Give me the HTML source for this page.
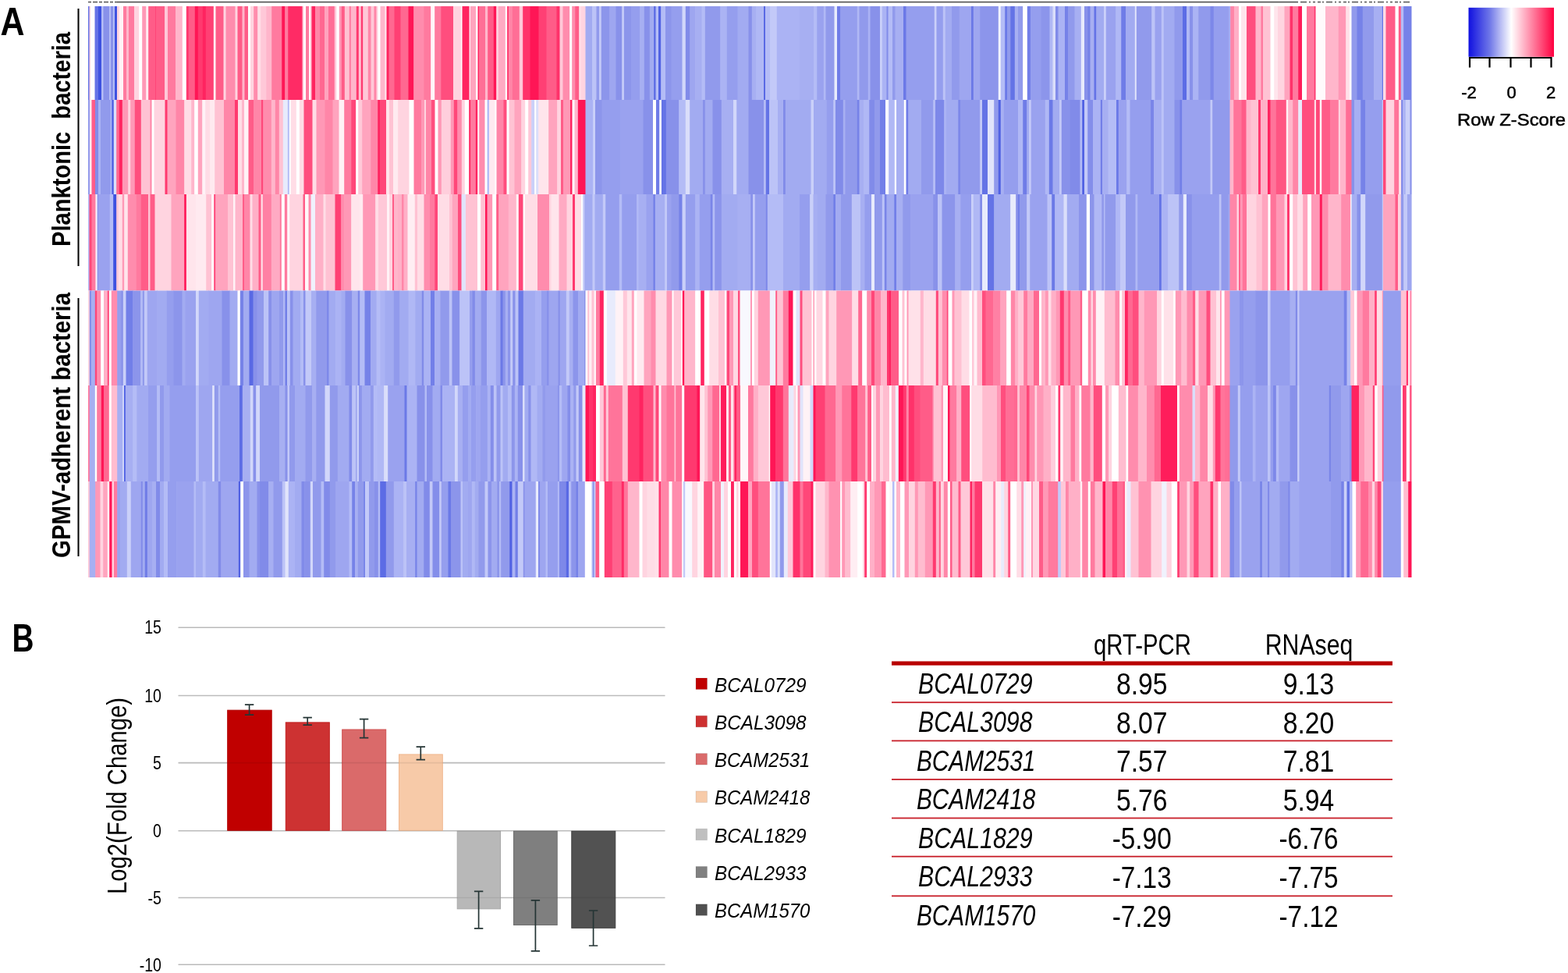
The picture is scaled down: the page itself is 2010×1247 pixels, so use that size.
<!DOCTYPE html>
<html><head><meta charset="utf-8"><title>Figure</title>
<style>html,body{margin:0;padding:0;background:#fff;} svg{display:block;font-family:"Liberation Sans",Arial,sans-serif;}</style>
</head><body>
<svg width="2010" height="1247" viewBox="0 0 2010 1247">
<rect width="2010" height="1247" fill="#fff"/>
<line x1="150" y1="2.6" x2="1664" y2="2.6" stroke="#5a5a5a" stroke-width="1.8"/>
<line x1="113" y1="2.6" x2="150" y2="2.6" stroke="#666" stroke-width="1.6" stroke-dasharray="4 2 6 2"/>
<line x1="1667" y1="2.6" x2="1808" y2="2.6" stroke="#666" stroke-width="1.6" stroke-dasharray="8 3 2 3 3 3 4 2 2 3"/>
<rect x="113.0" y="8" width="2.1" height="120" fill="#6473e6"/>
<rect x="114.5" y="8" width="2.1" height="120" fill="#ffd4e0"/>
<rect x="116.0" y="8" width="6.1" height="120" fill="#ffffff"/>
<rect x="121.5" y="8" width="5.1" height="120" fill="#6473e6"/>
<rect x="126.0" y="8" width="4.6" height="120" fill="#3e52e0"/>
<rect x="130.0" y="8" width="3.1" height="120" fill="#b4bcf6"/>
<rect x="132.5" y="8" width="8.1" height="120" fill="#8891ea"/>
<rect x="140.0" y="8" width="2.6" height="120" fill="#b4bcf6"/>
<rect x="142.0" y="8" width="3.6" height="120" fill="#8891ea"/>
<rect x="145.0" y="8" width="2.6" height="120" fill="#b4bcf6"/>
<rect x="147.0" y="8" width="3.6" height="120" fill="#3e52e0"/>
<rect x="150.0" y="8" width="3.6" height="120" fill="#ffd4e0"/>
<rect x="153.0" y="8" width="5.6" height="120" fill="#fff2f6"/>
<rect x="158.0" y="8" width="4.6" height="120" fill="#ff7a9f"/>
<rect x="162.0" y="8" width="3.6" height="120" fill="#ffb6cb"/>
<rect x="165.0" y="8" width="7.6" height="120" fill="#ff7a9f"/>
<rect x="172.0" y="8" width="6.8" height="120" fill="#ffd4e0"/>
<rect x="178.2" y="8" width="4.6" height="120" fill="#ffffff"/>
<rect x="182.2" y="8" width="5.6" height="120" fill="#ff98b6"/>
<rect x="187.2" y="8" width="3.6" height="120" fill="#ffeaf0"/>
<rect x="190.2" y="8" width="9.6" height="120" fill="#ff5c88"/>
<rect x="199.2" y="8" width="1.4" height="120" fill="#ff396f"/>
<rect x="200.0" y="8" width="11.6" height="120" fill="#ff5c88"/>
<rect x="211.0" y="8" width="4.6" height="120" fill="#ffc8d8"/>
<rect x="215.0" y="8" width="10.6" height="120" fill="#ff7a9f"/>
<rect x="225.0" y="8" width="9.3" height="120" fill="#ffb6cb"/>
<rect x="233.8" y="8" width="5.6" height="120" fill="#ffffff"/>
<rect x="238.8" y="8" width="3.6" height="120" fill="#ff396f"/>
<rect x="241.8" y="8" width="8.6" height="120" fill="#ff5c88"/>
<rect x="249.8" y="8" width="4.6" height="120" fill="#ff1656"/>
<rect x="253.8" y="8" width="6.6" height="120" fill="#ff396f"/>
<rect x="259.8" y="8" width="4.6" height="120" fill="#ff2460"/>
<rect x="263.8" y="8" width="10.6" height="120" fill="#ff4074"/>
<rect x="273.8" y="8" width="3.4" height="120" fill="#fff2f6"/>
<rect x="276.5" y="8" width="10.6" height="120" fill="#ff5c88"/>
<rect x="286.5" y="8" width="3.6" height="120" fill="#ffd4e0"/>
<rect x="289.5" y="8" width="12.6" height="120" fill="#ff8cad"/>
<rect x="301.5" y="8" width="3.6" height="120" fill="#ffd4e0"/>
<rect x="304.5" y="8" width="6.6" height="120" fill="#ff5c88"/>
<rect x="310.5" y="8" width="3.6" height="120" fill="#ffb6cb"/>
<rect x="313.5" y="8" width="5.1" height="120" fill="#ff5c88"/>
<rect x="318.0" y="8" width="3.6" height="120" fill="#ffffff"/>
<rect x="321.0" y="8" width="4.8" height="120" fill="#ffd4e0"/>
<rect x="325.2" y="8" width="5.6" height="120" fill="#ff8cad"/>
<rect x="330.2" y="8" width="4.6" height="120" fill="#ffdde6"/>
<rect x="334.2" y="8" width="7.6" height="120" fill="#ffc8d8"/>
<rect x="341.2" y="8" width="7.6" height="120" fill="#ffb6cb"/>
<rect x="348.2" y="8" width="13.6" height="120" fill="#ff7a9f"/>
<rect x="361.2" y="8" width="4.6" height="120" fill="#ff1656"/>
<rect x="365.2" y="8" width="4.6" height="120" fill="#ff7a9f"/>
<rect x="369.2" y="8" width="18.4" height="120" fill="#ff2b65"/>
<rect x="387.0" y="8" width="2.1" height="120" fill="#ff7a9f"/>
<rect x="388.5" y="8" width="4.1" height="120" fill="#ffffff"/>
<rect x="392.0" y="8" width="4.6" height="120" fill="#ff7a9f"/>
<rect x="396.0" y="8" width="3.1" height="120" fill="#ffffff"/>
<rect x="398.5" y="8" width="2.1" height="120" fill="#ff7a9f"/>
<rect x="400.0" y="8" width="4.6" height="120" fill="#ff2460"/>
<rect x="404.0" y="8" width="6.6" height="120" fill="#ff86a8"/>
<rect x="410.0" y="8" width="6.6" height="120" fill="#ff6891"/>
<rect x="416.0" y="8" width="5.6" height="120" fill="#ffa4be"/>
<rect x="421.0" y="8" width="8.3" height="120" fill="#ff6e96"/>
<rect x="428.8" y="8" width="3.1" height="120" fill="#ffc8d8"/>
<rect x="431.2" y="8" width="4.1" height="120" fill="#ffffff"/>
<rect x="434.8" y="8" width="3.6" height="120" fill="#ff98b6"/>
<rect x="437.8" y="8" width="4.6" height="120" fill="#ff5c88"/>
<rect x="441.8" y="8" width="6.6" height="120" fill="#ffc2d3"/>
<rect x="447.8" y="8" width="2.6" height="120" fill="#ff7a9f"/>
<rect x="449.8" y="8" width="7.6" height="120" fill="#ffb6cb"/>
<rect x="456.8" y="8" width="3.6" height="120" fill="#ff396f"/>
<rect x="459.8" y="8" width="3.6" height="120" fill="#ffc2d3"/>
<rect x="462.8" y="8" width="3.1" height="120" fill="#ff396f"/>
<rect x="465.2" y="8" width="7.1" height="120" fill="#ffc8d8"/>
<rect x="471.8" y="8" width="4.3" height="120" fill="#ff86a8"/>
<rect x="475.5" y="8" width="4.6" height="120" fill="#ffc8d8"/>
<rect x="479.5" y="8" width="3.6" height="120" fill="#ff86a8"/>
<rect x="482.5" y="8" width="2.6" height="120" fill="#ffd4e0"/>
<rect x="484.5" y="8" width="3.6" height="120" fill="#ffffff"/>
<rect x="487.5" y="8" width="6.6" height="120" fill="#ffb6cb"/>
<rect x="493.5" y="8" width="2.6" height="120" fill="#ffeaf0"/>
<rect x="495.5" y="8" width="3.6" height="120" fill="#ff2460"/>
<rect x="498.5" y="8" width="7.6" height="120" fill="#ff6891"/>
<rect x="505.5" y="8" width="8.6" height="120" fill="#ff4074"/>
<rect x="513.5" y="8" width="10.6" height="120" fill="#ff6891"/>
<rect x="523.5" y="8" width="7.3" height="120" fill="#ff1656"/>
<rect x="530.2" y="8" width="13.6" height="120" fill="#ff8cad"/>
<rect x="543.2" y="8" width="9.6" height="120" fill="#ff7a9f"/>
<rect x="552.2" y="8" width="5.6" height="120" fill="#fff6f9"/>
<rect x="557.2" y="8" width="8.6" height="120" fill="#ff7a9f"/>
<rect x="565.2" y="8" width="16.4" height="120" fill="#ff4e7e"/>
<rect x="581.0" y="8" width="10.6" height="120" fill="#ffd4e0"/>
<rect x="591.0" y="8" width="2.1" height="120" fill="#ffffff"/>
<rect x="592.5" y="8" width="9.6" height="120" fill="#ff2460"/>
<rect x="601.5" y="8" width="2.1" height="120" fill="#ffeaf0"/>
<rect x="603.0" y="8" width="7.6" height="120" fill="#ffa4be"/>
<rect x="610.0" y="8" width="3.1" height="120" fill="#ffffff"/>
<rect x="612.5" y="8" width="2.1" height="120" fill="#ff2460"/>
<rect x="614.0" y="8" width="8.6" height="120" fill="#ff6e96"/>
<rect x="622.0" y="8" width="3.9" height="120" fill="#ffb6cb"/>
<rect x="625.2" y="8" width="8.1" height="120" fill="#ff5c88"/>
<rect x="632.8" y="8" width="4.1" height="120" fill="#ff1656"/>
<rect x="636.2" y="8" width="3.1" height="120" fill="#ffd4e0"/>
<rect x="638.8" y="8" width="9.6" height="120" fill="#ffaac3"/>
<rect x="647.8" y="8" width="3.1" height="120" fill="#ffffff"/>
<rect x="650.2" y="8" width="2.1" height="120" fill="#ff2460"/>
<rect x="651.8" y="8" width="5.6" height="120" fill="#ff86a8"/>
<rect x="656.8" y="8" width="9.6" height="120" fill="#ff6e96"/>
<rect x="665.8" y="8" width="5.1" height="120" fill="#ffc8d8"/>
<rect x="670.2" y="8" width="9.8" height="120" fill="#ff326a"/>
<rect x="679.5" y="8" width="11.6" height="120" fill="#ff1656"/>
<rect x="690.5" y="8" width="10.6" height="120" fill="#ff4074"/>
<rect x="700.5" y="8" width="13.6" height="120" fill="#ff5c88"/>
<rect x="713.5" y="8" width="4.6" height="120" fill="#ff326a"/>
<rect x="717.5" y="8" width="4.6" height="120" fill="#ffc8d8"/>
<rect x="721.5" y="8" width="9.3" height="120" fill="#ff8cad"/>
<rect x="730.2" y="8" width="3.6" height="120" fill="#ffffff"/>
<rect x="733.2" y="8" width="4.6" height="120" fill="#ff8cad"/>
<rect x="737.2" y="8" width="5.6" height="120" fill="#ff5c88"/>
<rect x="742.2" y="8" width="3.4" height="120" fill="#ffdde6"/>
<rect x="745.0" y="8" width="6.1" height="120" fill="#ffd4e0"/>
<rect x="750.5" y="8" width="9.1" height="120" fill="#a2abf1"/>
<rect x="759.0" y="8" width="6.1" height="120" fill="#bcc3f7"/>
<rect x="764.5" y="8" width="4.1" height="120" fill="#919aec"/>
<rect x="768.0" y="8" width="3.4" height="120" fill="#c3c9f8"/>
<rect x="770.8" y="8" width="11.1" height="120" fill="#8c95eb"/>
<rect x="781.2" y="8" width="8.8" height="120" fill="#9ea6f0"/>
<rect x="789.5" y="8" width="8.3" height="120" fill="#8891ea"/>
<rect x="797.2" y="8" width="3.4" height="120" fill="#c3c9f8"/>
<rect x="800.0" y="8" width="9.6" height="120" fill="#8c95eb"/>
<rect x="809.0" y="8" width="11.8" height="120" fill="#959eee"/>
<rect x="820.2" y="8" width="6.1" height="120" fill="#a7aff2"/>
<rect x="825.8" y="8" width="7.6" height="120" fill="#8891ea"/>
<rect x="832.8" y="8" width="6.1" height="120" fill="#a2abf1"/>
<rect x="838.2" y="8" width="2.9" height="120" fill="#5969e4"/>
<rect x="840.5" y="8" width="4.1" height="120" fill="#b4bcf6"/>
<rect x="844.0" y="8" width="3.9" height="120" fill="#5162e3"/>
<rect x="847.2" y="8" width="6.3" height="120" fill="#b4bcf6"/>
<rect x="853.0" y="8" width="8.1" height="120" fill="#8c95eb"/>
<rect x="860.5" y="8" width="14.6" height="120" fill="#959eee"/>
<rect x="874.5" y="8" width="4.8" height="120" fill="#d2d7fa"/>
<rect x="878.8" y="8" width="6.1" height="120" fill="#818be9"/>
<rect x="884.2" y="8" width="7.6" height="120" fill="#9ea6f0"/>
<rect x="891.2" y="8" width="8.8" height="120" fill="#a7aff2"/>
<rect x="899.5" y="8" width="4.8" height="120" fill="#b4bcf6"/>
<rect x="903.8" y="8" width="20.1" height="120" fill="#919aec"/>
<rect x="923.2" y="8" width="9.1" height="120" fill="#abb3f4"/>
<rect x="931.8" y="8" width="14.3" height="120" fill="#959eee"/>
<rect x="945.5" y="8" width="14.6" height="120" fill="#a2abf1"/>
<rect x="959.5" y="8" width="4.8" height="120" fill="#8891ea"/>
<rect x="963.8" y="8" width="6.1" height="120" fill="#a7aff2"/>
<rect x="969.2" y="8" width="10.3" height="120" fill="#b0b8f5"/>
<rect x="979.0" y="8" width="2.6" height="120" fill="#5969e4"/>
<rect x="981.0" y="8" width="6.8" height="120" fill="#b4bcf6"/>
<rect x="987.2" y="8" width="9.1" height="120" fill="#c3c9f8"/>
<rect x="995.8" y="8" width="29.9" height="120" fill="#abb3f4"/>
<rect x="1025.0" y="8" width="18.6" height="120" fill="#a7aff2"/>
<rect x="1043.0" y="8" width="4.8" height="120" fill="#b4bcf6"/>
<rect x="1047.2" y="8" width="9.1" height="120" fill="#9aa2ef"/>
<rect x="1055.8" y="8" width="3.4" height="120" fill="#b0b8f5"/>
<rect x="1058.5" y="8" width="11.6" height="120" fill="#919aec"/>
<rect x="1069.5" y="8" width="4.1" height="120" fill="#e8ebfc"/>
<rect x="1073.0" y="8" width="4.8" height="120" fill="#6f7ce7"/>
<rect x="1077.2" y="8" width="22.1" height="120" fill="#959eee"/>
<rect x="1098.8" y="8" width="3.4" height="120" fill="#b0b8f5"/>
<rect x="1101.5" y="8" width="11.8" height="120" fill="#919aec"/>
<rect x="1112.8" y="8" width="3.4" height="120" fill="#abb3f4"/>
<rect x="1115.5" y="8" width="13.1" height="120" fill="#8891ea"/>
<rect x="1128.0" y="8" width="3.4" height="120" fill="#cad0f9"/>
<rect x="1130.8" y="8" width="6.3" height="120" fill="#abb3f4"/>
<rect x="1136.5" y="8" width="2.6" height="120" fill="#818be9"/>
<rect x="1138.5" y="8" width="6.1" height="120" fill="#b4bcf6"/>
<rect x="1144.0" y="8" width="4.1" height="120" fill="#919aec"/>
<rect x="1147.5" y="8" width="11.1" height="120" fill="#a7aff2"/>
<rect x="1158.0" y="8" width="4.1" height="120" fill="#6b79e7"/>
<rect x="1161.5" y="8" width="36.9" height="120" fill="#959eee"/>
<rect x="1197.8" y="8" width="3.4" height="120" fill="#cad0f9"/>
<rect x="1200.5" y="8" width="8.8" height="120" fill="#959eee"/>
<rect x="1208.8" y="8" width="3.6" height="120" fill="#bcc3f7"/>
<rect x="1211.8" y="8" width="8.8" height="120" fill="#a2abf1"/>
<rect x="1220.0" y="8" width="10.3" height="120" fill="#919aec"/>
<rect x="1229.8" y="8" width="15.8" height="120" fill="#9ea6f0"/>
<rect x="1245.0" y="8" width="3.4" height="120" fill="#6b79e7"/>
<rect x="1247.8" y="8" width="9.1" height="120" fill="#9ea6f0"/>
<rect x="1256.2" y="8" width="24.1" height="120" fill="#8c95eb"/>
<rect x="1279.8" y="8" width="3.6" height="120" fill="#f0f2fd"/>
<rect x="1282.8" y="8" width="6.1" height="120" fill="#b4bcf6"/>
<rect x="1288.2" y="8" width="3.4" height="120" fill="#6b79e7"/>
<rect x="1291.0" y="8" width="4.8" height="120" fill="#919aec"/>
<rect x="1295.2" y="8" width="6.1" height="120" fill="#6473e6"/>
<rect x="1300.8" y="8" width="4.8" height="120" fill="#a7aff2"/>
<rect x="1305.0" y="8" width="6.8" height="120" fill="#919aec"/>
<rect x="1311.2" y="8" width="6.1" height="120" fill="#ffffff"/>
<rect x="1316.8" y="8" width="4.8" height="120" fill="#727fe8"/>
<rect x="1321.0" y="8" width="13.8" height="120" fill="#959eee"/>
<rect x="1334.2" y="8" width="11.8" height="120" fill="#8c95eb"/>
<rect x="1345.5" y="8" width="4.6" height="120" fill="#b0b8f5"/>
<rect x="1349.5" y="8" width="4.1" height="120" fill="#dadefa"/>
<rect x="1353.0" y="8" width="4.1" height="120" fill="#818be9"/>
<rect x="1356.5" y="8" width="9.1" height="120" fill="#abb3f4"/>
<rect x="1365.0" y="8" width="4.6" height="120" fill="#7682e8"/>
<rect x="1369.0" y="8" width="9.1" height="120" fill="#919aec"/>
<rect x="1377.5" y="8" width="8.8" height="120" fill="#a7aff2"/>
<rect x="1385.8" y="8" width="4.8" height="120" fill="#e8ebfc"/>
<rect x="1390.0" y="8" width="4.8" height="120" fill="#8891ea"/>
<rect x="1394.2" y="8" width="3.9" height="120" fill="#7682e8"/>
<rect x="1397.5" y="8" width="5.6" height="120" fill="#a7aff2"/>
<rect x="1402.5" y="8" width="3.4" height="120" fill="#6473e6"/>
<rect x="1405.2" y="8" width="10.3" height="120" fill="#a2abf1"/>
<rect x="1415.0" y="8" width="3.4" height="120" fill="#cad0f9"/>
<rect x="1417.8" y="8" width="13.1" height="120" fill="#9aa2ef"/>
<rect x="1430.2" y="8" width="7.6" height="120" fill="#b0b8f5"/>
<rect x="1437.2" y="8" width="6.3" height="120" fill="#6f7ce7"/>
<rect x="1443.0" y="8" width="12.3" height="120" fill="#a2abf1"/>
<rect x="1454.8" y="8" width="2.6" height="120" fill="#e1e4fb"/>
<rect x="1456.8" y="8" width="20.1" height="120" fill="#919aec"/>
<rect x="1476.2" y="8" width="4.8" height="120" fill="#bcc3f7"/>
<rect x="1480.5" y="8" width="8.8" height="120" fill="#9aa2ef"/>
<rect x="1488.8" y="8" width="3.6" height="120" fill="#bcc3f7"/>
<rect x="1491.8" y="8" width="14.3" height="120" fill="#a2abf1"/>
<rect x="1505.5" y="8" width="11.1" height="120" fill="#919aec"/>
<rect x="1516.0" y="8" width="5.6" height="120" fill="#5c6ce5"/>
<rect x="1521.0" y="8" width="4.6" height="120" fill="#b0b8f5"/>
<rect x="1525.0" y="8" width="4.8" height="120" fill="#8891ea"/>
<rect x="1529.2" y="8" width="7.6" height="120" fill="#abb3f4"/>
<rect x="1536.2" y="8" width="15.8" height="120" fill="#919aec"/>
<rect x="1551.5" y="8" width="4.8" height="120" fill="#7d88e9"/>
<rect x="1555.8" y="8" width="19.4" height="120" fill="#959eee"/>
<rect x="1574.5" y="8" width="2.6" height="120" fill="#9ea6f0"/>
<rect x="1576.5" y="8" width="1.4" height="120" fill="#b4bcf6"/>
<rect x="1577.2" y="8" width="5.3" height="120" fill="#ff86a8"/>
<rect x="1582.0" y="8" width="6.6" height="120" fill="#ffb0c7"/>
<rect x="1588.0" y="8" width="3.6" height="120" fill="#ffffff"/>
<rect x="1591.0" y="8" width="7.6" height="120" fill="#ffe5ec"/>
<rect x="1598.0" y="8" width="12.1" height="120" fill="#ff4e7e"/>
<rect x="1609.5" y="8" width="7.6" height="120" fill="#ffb6cb"/>
<rect x="1616.5" y="8" width="3.1" height="120" fill="#ff7a9f"/>
<rect x="1619.0" y="8" width="10.1" height="120" fill="#ffc2d3"/>
<rect x="1628.5" y="8" width="5.3" height="120" fill="#ffffff"/>
<rect x="1633.2" y="8" width="5.3" height="120" fill="#ffe5ec"/>
<rect x="1638.0" y="8" width="9.1" height="120" fill="#ffd4e0"/>
<rect x="1646.5" y="8" width="7.6" height="120" fill="#ffa4be"/>
<rect x="1653.5" y="8" width="4.3" height="120" fill="#ff326a"/>
<rect x="1657.2" y="8" width="7.6" height="120" fill="#ff7a9f"/>
<rect x="1664.2" y="8" width="5.3" height="120" fill="#ff1d5b"/>
<rect x="1669.0" y="8" width="6.6" height="120" fill="#ffffff"/>
<rect x="1675.0" y="8" width="10.3" height="120" fill="#ff7a9f"/>
<rect x="1684.8" y="8" width="2.4" height="120" fill="#ff396f"/>
<rect x="1686.5" y="8" width="13.1" height="120" fill="#fffbfc"/>
<rect x="1699.0" y="8" width="17.4" height="120" fill="#ffb6cb"/>
<rect x="1715.8" y="8" width="10.1" height="120" fill="#ff98b6"/>
<rect x="1725.2" y="8" width="5.3" height="120" fill="#ffe1e9"/>
<rect x="1730.0" y="8" width="3.1" height="120" fill="#ffffff"/>
<rect x="1732.5" y="8" width="7.6" height="120" fill="#919aec"/>
<rect x="1739.5" y="8" width="7.8" height="120" fill="#7682e8"/>
<rect x="1746.8" y="8" width="14.8" height="120" fill="#919aec"/>
<rect x="1761.0" y="8" width="11.3" height="120" fill="#a7aff2"/>
<rect x="1771.8" y="8" width="1.9" height="120" fill="#6473e6"/>
<rect x="1773.0" y="8" width="4.1" height="120" fill="#ffdde6"/>
<rect x="1776.5" y="8" width="12.6" height="120" fill="#ff5c88"/>
<rect x="1788.5" y="8" width="4.8" height="120" fill="#ffffff"/>
<rect x="1792.8" y="8" width="3.6" height="120" fill="#ff5c88"/>
<rect x="1795.8" y="8" width="4.1" height="120" fill="#b4bcf6"/>
<rect x="1799.2" y="8" width="10.3" height="120" fill="#7682e8"/>
<rect x="113.0" y="128" width="2.6" height="121" fill="#919aec"/>
<rect x="115.0" y="128" width="3.1" height="121" fill="#ffeaf0"/>
<rect x="117.5" y="128" width="5.1" height="121" fill="#ff5c88"/>
<rect x="122.0" y="128" width="4.6" height="121" fill="#818be9"/>
<rect x="126.0" y="128" width="3.6" height="121" fill="#abb3f4"/>
<rect x="129.0" y="128" width="13.3" height="121" fill="#919aec"/>
<rect x="141.8" y="128" width="2.1" height="121" fill="#b4bcf6"/>
<rect x="143.2" y="128" width="3.1" height="121" fill="#5162e3"/>
<rect x="145.8" y="128" width="4.1" height="121" fill="#dadefa"/>
<rect x="149.2" y="128" width="4.1" height="121" fill="#ff6891"/>
<rect x="152.8" y="128" width="4.6" height="121" fill="#ff2460"/>
<rect x="156.8" y="128" width="8.1" height="121" fill="#ff98b6"/>
<rect x="164.2" y="128" width="3.6" height="121" fill="#ffd4e0"/>
<rect x="167.2" y="128" width="6.1" height="121" fill="#ff98b6"/>
<rect x="172.8" y="128" width="8.6" height="121" fill="#ff4e7e"/>
<rect x="180.8" y="128" width="12.3" height="121" fill="#ffc2d3"/>
<rect x="192.5" y="128" width="2.6" height="121" fill="#ff86a8"/>
<rect x="194.5" y="128" width="3.6" height="121" fill="#ffffff"/>
<rect x="197.5" y="128" width="14.6" height="121" fill="#ffd4e0"/>
<rect x="211.5" y="128" width="3.6" height="121" fill="#ff396f"/>
<rect x="214.5" y="128" width="11.6" height="121" fill="#ffa4be"/>
<rect x="225.5" y="128" width="11.3" height="121" fill="#ff86a8"/>
<rect x="236.2" y="128" width="9.6" height="121" fill="#ffdde6"/>
<rect x="245.2" y="128" width="4.6" height="121" fill="#ffb6cb"/>
<rect x="249.2" y="128" width="5.1" height="121" fill="#ffffff"/>
<rect x="253.8" y="128" width="6.1" height="121" fill="#ffa4be"/>
<rect x="259.2" y="128" width="4.6" height="121" fill="#fff2f6"/>
<rect x="263.2" y="128" width="6.6" height="121" fill="#ffdde6"/>
<rect x="269.2" y="128" width="6.6" height="121" fill="#ffeaf0"/>
<rect x="275.2" y="128" width="12.3" height="121" fill="#ffc2d3"/>
<rect x="287.0" y="128" width="14.6" height="121" fill="#ff86a8"/>
<rect x="301.0" y="128" width="4.6" height="121" fill="#ff396f"/>
<rect x="305.0" y="128" width="5.6" height="121" fill="#ffdde6"/>
<rect x="310.0" y="128" width="3.6" height="121" fill="#ffb6cb"/>
<rect x="313.0" y="128" width="6.1" height="121" fill="#fff2f6"/>
<rect x="318.5" y="128" width="7.1" height="121" fill="#ff5c88"/>
<rect x="325.0" y="128" width="10.6" height="121" fill="#ff86a8"/>
<rect x="335.0" y="128" width="2.9" height="121" fill="#ff4779"/>
<rect x="337.2" y="128" width="11.1" height="121" fill="#ff8cad"/>
<rect x="347.8" y="128" width="5.6" height="121" fill="#ffb6cb"/>
<rect x="352.8" y="128" width="5.6" height="121" fill="#ff86a8"/>
<rect x="357.8" y="128" width="5.6" height="121" fill="#ffc2d3"/>
<rect x="362.8" y="128" width="6.6" height="121" fill="#e8ebfc"/>
<rect x="368.8" y="128" width="2.6" height="121" fill="#b4bcf6"/>
<rect x="370.8" y="128" width="2.6" height="121" fill="#ffffff"/>
<rect x="372.8" y="128" width="7.6" height="121" fill="#ffdde6"/>
<rect x="379.8" y="128" width="4.6" height="121" fill="#ffffff"/>
<rect x="383.8" y="128" width="6.3" height="121" fill="#ffdde6"/>
<rect x="389.5" y="128" width="11.6" height="121" fill="#ff4e7e"/>
<rect x="400.5" y="128" width="5.6" height="121" fill="#ffdde6"/>
<rect x="405.5" y="128" width="11.6" height="121" fill="#ff98b6"/>
<rect x="416.5" y="128" width="10.6" height="121" fill="#ff86a8"/>
<rect x="426.5" y="128" width="8.6" height="121" fill="#ffa4be"/>
<rect x="434.5" y="128" width="7.3" height="121" fill="#fff2f6"/>
<rect x="441.2" y="128" width="9.6" height="121" fill="#ff7a9f"/>
<rect x="450.2" y="128" width="6.6" height="121" fill="#ff4779"/>
<rect x="456.2" y="128" width="3.6" height="121" fill="#ffffff"/>
<rect x="459.2" y="128" width="5.6" height="121" fill="#ffc8d8"/>
<rect x="464.2" y="128" width="11.6" height="121" fill="#ffa4be"/>
<rect x="475.2" y="128" width="9.6" height="121" fill="#ff86a8"/>
<rect x="484.2" y="128" width="3.4" height="121" fill="#ff2460"/>
<rect x="487.0" y="128" width="8.6" height="121" fill="#ff4779"/>
<rect x="495.0" y="128" width="4.6" height="121" fill="#ffe5ec"/>
<rect x="499.0" y="128" width="5.6" height="121" fill="#ffc2d3"/>
<rect x="504.0" y="128" width="6.6" height="121" fill="#ffeaf0"/>
<rect x="510.0" y="128" width="1.1" height="121" fill="#ffdde6"/>
<rect x="510.5" y="128" width="14.6" height="121" fill="#ffd4e0"/>
<rect x="524.5" y="128" width="6.6" height="121" fill="#ffffff"/>
<rect x="530.5" y="128" width="10.1" height="121" fill="#ff7a9f"/>
<rect x="540.0" y="128" width="4.6" height="121" fill="#ff98b6"/>
<rect x="544.0" y="128" width="2.6" height="121" fill="#ffd4e0"/>
<rect x="546.0" y="128" width="7.6" height="121" fill="#ff86a8"/>
<rect x="553.0" y="128" width="5.1" height="121" fill="#ff4e7e"/>
<rect x="557.5" y="128" width="4.6" height="121" fill="#ffffff"/>
<rect x="561.5" y="128" width="4.8" height="121" fill="#ff98b6"/>
<rect x="565.8" y="128" width="12.6" height="121" fill="#ffcedc"/>
<rect x="577.8" y="128" width="4.6" height="121" fill="#ff98b6"/>
<rect x="581.8" y="128" width="5.1" height="121" fill="#ff4779"/>
<rect x="586.2" y="128" width="6.1" height="121" fill="#ff8cad"/>
<rect x="591.8" y="128" width="4.6" height="121" fill="#ffd4e0"/>
<rect x="595.8" y="128" width="6.1" height="121" fill="#ffffff"/>
<rect x="601.2" y="128" width="2.6" height="121" fill="#ff2460"/>
<rect x="603.2" y="128" width="7.1" height="121" fill="#ff7a9f"/>
<rect x="609.8" y="128" width="3.1" height="121" fill="#ff2460"/>
<rect x="612.2" y="128" width="2.6" height="121" fill="#fff6f9"/>
<rect x="614.2" y="128" width="7.8" height="121" fill="#ff8cad"/>
<rect x="621.5" y="128" width="3.6" height="121" fill="#ffffff"/>
<rect x="624.5" y="128" width="3.1" height="121" fill="#b4bcf6"/>
<rect x="627.0" y="128" width="8.1" height="121" fill="#ffeaf0"/>
<rect x="634.5" y="128" width="2.6" height="121" fill="#ffffff"/>
<rect x="636.5" y="128" width="9.6" height="121" fill="#ff86a8"/>
<rect x="645.5" y="128" width="4.6" height="121" fill="#ff4e7e"/>
<rect x="649.5" y="128" width="3.6" height="121" fill="#ffffff"/>
<rect x="652.5" y="128" width="7.6" height="121" fill="#ffc2d3"/>
<rect x="659.5" y="128" width="9.3" height="121" fill="#ffa4be"/>
<rect x="668.2" y="128" width="5.6" height="121" fill="#ffd4e0"/>
<rect x="673.2" y="128" width="4.6" height="121" fill="#ffffff"/>
<rect x="677.2" y="128" width="4.6" height="121" fill="#ffc8d8"/>
<rect x="681.2" y="128" width="4.6" height="121" fill="#cad0f9"/>
<rect x="685.2" y="128" width="2.6" height="121" fill="#ffffff"/>
<rect x="687.2" y="128" width="3.6" height="121" fill="#dadefa"/>
<rect x="690.2" y="128" width="13.6" height="121" fill="#ffe5ec"/>
<rect x="703.2" y="128" width="11.6" height="121" fill="#ffa4be"/>
<rect x="714.2" y="128" width="5.3" height="121" fill="#ffd4e0"/>
<rect x="719.0" y="128" width="3.6" height="121" fill="#ff5c88"/>
<rect x="722.0" y="128" width="9.6" height="121" fill="#ff98b6"/>
<rect x="731.0" y="128" width="3.1" height="121" fill="#ff2460"/>
<rect x="733.5" y="128" width="3.6" height="121" fill="#ffffff"/>
<rect x="736.5" y="128" width="4.1" height="121" fill="#ffb6cb"/>
<rect x="740.0" y="128" width="1.6" height="121" fill="#ff98b6"/>
<rect x="741.0" y="128" width="10.1" height="121" fill="#ff1656"/>
<rect x="750.5" y="128" width="10.3" height="121" fill="#abb3f4"/>
<rect x="760.2" y="128" width="3.4" height="121" fill="#cad0f9"/>
<rect x="763.0" y="128" width="9.1" height="121" fill="#8c95eb"/>
<rect x="771.5" y="128" width="24.4" height="121" fill="#959eee"/>
<rect x="795.2" y="128" width="29.9" height="121" fill="#9aa2ef"/>
<rect x="824.5" y="128" width="13.1" height="121" fill="#8891ea"/>
<rect x="837.0" y="128" width="4.6" height="121" fill="#ffffff"/>
<rect x="841.0" y="128" width="4.8" height="121" fill="#6f7ce7"/>
<rect x="845.2" y="128" width="3.4" height="121" fill="#f0f2fd"/>
<rect x="848.0" y="128" width="6.3" height="121" fill="#6473e6"/>
<rect x="853.8" y="128" width="17.1" height="121" fill="#8891ea"/>
<rect x="870.2" y="128" width="9.1" height="121" fill="#b4bcf6"/>
<rect x="878.8" y="128" width="6.1" height="121" fill="#dadefa"/>
<rect x="884.2" y="128" width="17.4" height="121" fill="#a2abf1"/>
<rect x="901.0" y="128" width="3.4" height="121" fill="#8891ea"/>
<rect x="903.8" y="128" width="10.3" height="121" fill="#a2abf1"/>
<rect x="913.5" y="128" width="11.8" height="121" fill="#8891ea"/>
<rect x="924.8" y="128" width="15.8" height="121" fill="#a7aff2"/>
<rect x="940.0" y="128" width="4.8" height="121" fill="#d2d7fa"/>
<rect x="944.2" y="128" width="15.8" height="121" fill="#a2abf1"/>
<rect x="959.5" y="128" width="20.1" height="121" fill="#8891ea"/>
<rect x="979.0" y="128" width="3.4" height="121" fill="#b4bcf6"/>
<rect x="981.8" y="128" width="4.8" height="121" fill="#6473e6"/>
<rect x="986.0" y="128" width="11.6" height="121" fill="#bcc3f7"/>
<rect x="997.0" y="128" width="7.6" height="121" fill="#a7aff2"/>
<rect x="1004.0" y="128" width="3.4" height="121" fill="#818be9"/>
<rect x="1006.8" y="128" width="33.4" height="121" fill="#a2abf1"/>
<rect x="1039.5" y="128" width="4.1" height="121" fill="#cad0f9"/>
<rect x="1043.0" y="128" width="17.4" height="121" fill="#a2abf1"/>
<rect x="1059.8" y="128" width="9.1" height="121" fill="#959eee"/>
<rect x="1068.2" y="128" width="3.4" height="121" fill="#bcc3f7"/>
<rect x="1071.0" y="128" width="10.3" height="121" fill="#818be9"/>
<rect x="1080.8" y="128" width="3.4" height="121" fill="#a7aff2"/>
<rect x="1083.5" y="128" width="15.8" height="121" fill="#919aec"/>
<rect x="1098.8" y="128" width="3.4" height="121" fill="#7682e8"/>
<rect x="1101.5" y="128" width="6.3" height="121" fill="#a7aff2"/>
<rect x="1107.2" y="128" width="7.6" height="121" fill="#b0b8f5"/>
<rect x="1114.2" y="128" width="7.3" height="121" fill="#818be9"/>
<rect x="1121.0" y="128" width="7.6" height="121" fill="#919aec"/>
<rect x="1128.0" y="128" width="7.6" height="121" fill="#727fe8"/>
<rect x="1135.0" y="128" width="4.8" height="121" fill="#f8f8fe"/>
<rect x="1139.2" y="128" width="8.1" height="121" fill="#b0b8f5"/>
<rect x="1146.8" y="128" width="2.9" height="121" fill="#ffffff"/>
<rect x="1149.0" y="128" width="10.3" height="121" fill="#a7aff2"/>
<rect x="1158.8" y="128" width="3.4" height="121" fill="#ffffff"/>
<rect x="1161.5" y="128" width="3.4" height="121" fill="#6f7ce7"/>
<rect x="1164.2" y="128" width="17.4" height="121" fill="#a2abf1"/>
<rect x="1181.0" y="128" width="15.8" height="121" fill="#919aec"/>
<rect x="1196.2" y="128" width="3.4" height="121" fill="#b4bcf6"/>
<rect x="1199.0" y="128" width="11.8" height="121" fill="#7d88e9"/>
<rect x="1210.2" y="128" width="3.4" height="121" fill="#abb3f4"/>
<rect x="1213.0" y="128" width="15.8" height="121" fill="#a2abf1"/>
<rect x="1228.2" y="128" width="3.6" height="121" fill="#7d88e9"/>
<rect x="1231.2" y="128" width="25.6" height="121" fill="#919aec"/>
<rect x="1256.2" y="128" width="3.4" height="121" fill="#c3c9f8"/>
<rect x="1259.0" y="128" width="7.6" height="121" fill="#6473e6"/>
<rect x="1266.0" y="128" width="8.8" height="121" fill="#e1e4fb"/>
<rect x="1274.2" y="128" width="6.1" height="121" fill="#919aec"/>
<rect x="1279.8" y="128" width="3.6" height="121" fill="#5162e3"/>
<rect x="1282.8" y="128" width="4.6" height="121" fill="#a7aff2"/>
<rect x="1286.8" y="128" width="18.9" height="121" fill="#959eee"/>
<rect x="1305.0" y="128" width="6.8" height="121" fill="#b0b8f5"/>
<rect x="1311.2" y="128" width="5.6" height="121" fill="#6f7ce7"/>
<rect x="1316.2" y="128" width="3.4" height="121" fill="#a2abf1"/>
<rect x="1319.0" y="128" width="3.4" height="121" fill="#c3c9f8"/>
<rect x="1321.8" y="128" width="18.6" height="121" fill="#9aa2ef"/>
<rect x="1339.8" y="128" width="5.6" height="121" fill="#b0b8f5"/>
<rect x="1344.8" y="128" width="5.3" height="121" fill="#6b79e7"/>
<rect x="1349.5" y="128" width="9.1" height="121" fill="#a2abf1"/>
<rect x="1358.0" y="128" width="3.4" height="121" fill="#c3c9f8"/>
<rect x="1360.8" y="128" width="11.6" height="121" fill="#8891ea"/>
<rect x="1371.8" y="128" width="13.3" height="121" fill="#818be9"/>
<rect x="1384.5" y="128" width="3.4" height="121" fill="#b4bcf6"/>
<rect x="1387.2" y="128" width="3.4" height="121" fill="#5162e3"/>
<rect x="1390.0" y="128" width="4.8" height="121" fill="#c3c9f8"/>
<rect x="1394.2" y="128" width="7.3" height="121" fill="#848eea"/>
<rect x="1401.0" y="128" width="10.3" height="121" fill="#abb3f4"/>
<rect x="1410.8" y="128" width="2.9" height="121" fill="#727fe8"/>
<rect x="1413.0" y="128" width="8.1" height="121" fill="#a7aff2"/>
<rect x="1420.5" y="128" width="11.1" height="121" fill="#b4bcf6"/>
<rect x="1431.0" y="128" width="3.4" height="121" fill="#6b79e7"/>
<rect x="1433.8" y="128" width="11.1" height="121" fill="#9aa2ef"/>
<rect x="1444.2" y="128" width="4.8" height="121" fill="#b4bcf6"/>
<rect x="1448.5" y="128" width="27.1" height="121" fill="#959eee"/>
<rect x="1475.0" y="128" width="4.6" height="121" fill="#7a85e8"/>
<rect x="1479.0" y="128" width="10.3" height="121" fill="#a7aff2"/>
<rect x="1488.8" y="128" width="3.6" height="121" fill="#bcc3f7"/>
<rect x="1491.8" y="128" width="14.3" height="121" fill="#a2abf1"/>
<rect x="1505.5" y="128" width="7.6" height="121" fill="#8891ea"/>
<rect x="1512.5" y="128" width="3.4" height="121" fill="#727fe8"/>
<rect x="1515.2" y="128" width="36.9" height="121" fill="#9aa2ef"/>
<rect x="1551.5" y="128" width="3.4" height="121" fill="#c3c9f8"/>
<rect x="1554.2" y="128" width="22.9" height="121" fill="#919aec"/>
<rect x="1576.5" y="128" width="5.3" height="121" fill="#ffb6cb"/>
<rect x="1581.2" y="128" width="10.8" height="121" fill="#ff749a"/>
<rect x="1591.5" y="128" width="6.6" height="121" fill="#ff5c88"/>
<rect x="1597.5" y="128" width="6.6" height="121" fill="#ffb6cb"/>
<rect x="1603.5" y="128" width="10.1" height="121" fill="#ffc2d3"/>
<rect x="1613.0" y="128" width="3.6" height="121" fill="#ff396f"/>
<rect x="1616.0" y="128" width="9.6" height="121" fill="#ffb0c7"/>
<rect x="1625.0" y="128" width="4.1" height="121" fill="#ff2460"/>
<rect x="1628.5" y="128" width="7.8" height="121" fill="#ff749a"/>
<rect x="1635.8" y="128" width="13.6" height="121" fill="#ff5583"/>
<rect x="1648.8" y="128" width="3.1" height="121" fill="#fff2f6"/>
<rect x="1651.2" y="128" width="6.6" height="121" fill="#ffb6cb"/>
<rect x="1657.2" y="128" width="7.6" height="121" fill="#ff86a8"/>
<rect x="1664.2" y="128" width="5.3" height="121" fill="#e8ebfc"/>
<rect x="1669.0" y="128" width="16.4" height="121" fill="#ff4e7e"/>
<rect x="1684.8" y="128" width="2.9" height="121" fill="#ffdde6"/>
<rect x="1687.0" y="128" width="5.3" height="121" fill="#ff4779"/>
<rect x="1691.8" y="128" width="3.1" height="121" fill="#ffffff"/>
<rect x="1694.2" y="128" width="11.3" height="121" fill="#ff5c88"/>
<rect x="1705.0" y="128" width="11.3" height="121" fill="#ff7a9f"/>
<rect x="1715.8" y="128" width="2.9" height="121" fill="#ffd4e0"/>
<rect x="1718.0" y="128" width="7.8" height="121" fill="#ffb6cb"/>
<rect x="1725.2" y="128" width="7.8" height="121" fill="#ff6e96"/>
<rect x="1732.5" y="128" width="4.1" height="121" fill="#8891ea"/>
<rect x="1736.0" y="128" width="8.8" height="121" fill="#a7aff2"/>
<rect x="1744.2" y="128" width="6.6" height="121" fill="#7682e8"/>
<rect x="1750.2" y="128" width="22.1" height="121" fill="#959eee"/>
<rect x="1771.8" y="128" width="1.9" height="121" fill="#c3c9f8"/>
<rect x="1773.0" y="128" width="4.1" height="121" fill="#ff4779"/>
<rect x="1776.5" y="128" width="11.3" height="121" fill="#ffd4e0"/>
<rect x="1787.2" y="128" width="6.6" height="121" fill="#ff749a"/>
<rect x="1793.2" y="128" width="3.6" height="121" fill="#ffe5ec"/>
<rect x="1796.2" y="128" width="2.4" height="121" fill="#7682e8"/>
<rect x="1798.0" y="128" width="4.3" height="121" fill="#abb3f4"/>
<rect x="1801.8" y="128" width="6.3" height="121" fill="#cad0f9"/>
<rect x="1807.5" y="128" width="2.1" height="121" fill="#8891ea"/>
<rect x="113.0" y="249" width="2.1" height="123.5" fill="#b4bcf6"/>
<rect x="114.5" y="249" width="3.6" height="123.5" fill="#ff4779"/>
<rect x="117.5" y="249" width="5.6" height="123.5" fill="#ff7a9f"/>
<rect x="122.5" y="249" width="2.6" height="123.5" fill="#fff6f9"/>
<rect x="124.5" y="249" width="3.1" height="123.5" fill="#919aec"/>
<rect x="127.0" y="249" width="14.3" height="123.5" fill="#9aa2ef"/>
<rect x="140.8" y="249" width="5.1" height="123.5" fill="#b4bcf6"/>
<rect x="145.2" y="249" width="4.6" height="123.5" fill="#3e52e0"/>
<rect x="149.2" y="249" width="3.1" height="123.5" fill="#ffc8d8"/>
<rect x="151.8" y="249" width="5.6" height="123.5" fill="#ffdde6"/>
<rect x="156.8" y="249" width="3.1" height="123.5" fill="#ff98b6"/>
<rect x="159.2" y="249" width="5.1" height="123.5" fill="#ffe5ec"/>
<rect x="163.8" y="249" width="11.6" height="123.5" fill="#ff8cad"/>
<rect x="174.8" y="249" width="6.6" height="123.5" fill="#ff7a9f"/>
<rect x="180.8" y="249" width="9.8" height="123.5" fill="#ff5c88"/>
<rect x="190.0" y="249" width="3.1" height="123.5" fill="#ffc2d3"/>
<rect x="192.5" y="249" width="6.6" height="123.5" fill="#ff5c88"/>
<rect x="198.5" y="249" width="21.6" height="123.5" fill="#ffd4e0"/>
<rect x="219.5" y="249" width="17.4" height="123.5" fill="#ffa4be"/>
<rect x="236.2" y="249" width="3.1" height="123.5" fill="#ff1656"/>
<rect x="238.8" y="249" width="13.1" height="123.5" fill="#ffe5ec"/>
<rect x="251.2" y="249" width="13.6" height="123.5" fill="#ffeaf0"/>
<rect x="264.2" y="249" width="7.6" height="123.5" fill="#ffc2d3"/>
<rect x="271.2" y="249" width="3.6" height="123.5" fill="#ffffff"/>
<rect x="274.2" y="249" width="2.6" height="123.5" fill="#ff4779"/>
<rect x="276.2" y="249" width="16.4" height="123.5" fill="#ffa4be"/>
<rect x="292.0" y="249" width="7.6" height="123.5" fill="#ffc2d3"/>
<rect x="299.0" y="249" width="3.1" height="123.5" fill="#fff2f6"/>
<rect x="301.5" y="249" width="10.1" height="123.5" fill="#ffb6cb"/>
<rect x="311.0" y="249" width="2.6" height="123.5" fill="#ff5c88"/>
<rect x="313.0" y="249" width="8.1" height="123.5" fill="#ff86a8"/>
<rect x="320.5" y="249" width="3.6" height="123.5" fill="#ffdde6"/>
<rect x="323.5" y="249" width="8.6" height="123.5" fill="#ffb0c7"/>
<rect x="331.5" y="249" width="3.6" height="123.5" fill="#ff5c88"/>
<rect x="334.5" y="249" width="2.9" height="123.5" fill="#ffdde6"/>
<rect x="336.8" y="249" width="11.6" height="123.5" fill="#ff80a4"/>
<rect x="347.8" y="249" width="11.6" height="123.5" fill="#ffaac3"/>
<rect x="358.8" y="249" width="2.6" height="123.5" fill="#ff7a9f"/>
<rect x="360.8" y="249" width="4.6" height="123.5" fill="#ffffff"/>
<rect x="364.8" y="249" width="4.1" height="123.5" fill="#ff7a9f"/>
<rect x="368.2" y="249" width="3.6" height="123.5" fill="#fff6f9"/>
<rect x="371.2" y="249" width="17.9" height="123.5" fill="#ffd4e0"/>
<rect x="388.5" y="249" width="3.1" height="123.5" fill="#ff5c88"/>
<rect x="391.0" y="249" width="5.1" height="123.5" fill="#fff6f9"/>
<rect x="395.5" y="249" width="3.6" height="123.5" fill="#ff8cad"/>
<rect x="398.5" y="249" width="6.1" height="123.5" fill="#f0f2fd"/>
<rect x="404.0" y="249" width="11.1" height="123.5" fill="#ffb0c7"/>
<rect x="414.5" y="249" width="3.6" height="123.5" fill="#ffdde6"/>
<rect x="417.5" y="249" width="12.6" height="123.5" fill="#ffc2d3"/>
<rect x="429.5" y="249" width="8.3" height="123.5" fill="#ff4074"/>
<rect x="437.2" y="249" width="4.6" height="123.5" fill="#ff8cad"/>
<rect x="441.2" y="249" width="9.6" height="123.5" fill="#ff98b6"/>
<rect x="450.2" y="249" width="11.6" height="123.5" fill="#ffe5ec"/>
<rect x="461.2" y="249" width="4.6" height="123.5" fill="#ffeaf0"/>
<rect x="465.2" y="249" width="16.6" height="123.5" fill="#ff98b6"/>
<rect x="481.2" y="249" width="4.3" height="123.5" fill="#ffdde6"/>
<rect x="485.0" y="249" width="11.6" height="123.5" fill="#ffc8d8"/>
<rect x="496.0" y="249" width="3.6" height="123.5" fill="#fff2f6"/>
<rect x="499.0" y="249" width="4.6" height="123.5" fill="#ffd4e0"/>
<rect x="503.0" y="249" width="2.6" height="123.5" fill="#ff5c88"/>
<rect x="505.0" y="249" width="5.6" height="123.5" fill="#ffb6cb"/>
<rect x="510.0" y="249" width="5.6" height="123.5" fill="#ffb0c7"/>
<rect x="515.0" y="249" width="3.1" height="123.5" fill="#ff86a8"/>
<rect x="517.5" y="249" width="5.6" height="123.5" fill="#ffb0c7"/>
<rect x="522.5" y="249" width="9.8" height="123.5" fill="#ffeef3"/>
<rect x="531.8" y="249" width="3.9" height="123.5" fill="#ffc2d3"/>
<rect x="535.0" y="249" width="9.1" height="123.5" fill="#ffdde6"/>
<rect x="543.5" y="249" width="8.1" height="123.5" fill="#ff8cad"/>
<rect x="551.0" y="249" width="6.8" height="123.5" fill="#ff7a9f"/>
<rect x="557.2" y="249" width="4.3" height="123.5" fill="#ff4779"/>
<rect x="561.0" y="249" width="15.6" height="123.5" fill="#ffdde6"/>
<rect x="576.0" y="249" width="4.3" height="123.5" fill="#ffc2d3"/>
<rect x="579.8" y="249" width="7.8" height="123.5" fill="#ffa4be"/>
<rect x="587.0" y="249" width="5.1" height="123.5" fill="#ff4e7e"/>
<rect x="591.5" y="249" width="6.1" height="123.5" fill="#e1e4fb"/>
<rect x="597.0" y="249" width="15.6" height="123.5" fill="#ffc2d3"/>
<rect x="612.0" y="249" width="4.8" height="123.5" fill="#ffffff"/>
<rect x="616.2" y="249" width="6.3" height="123.5" fill="#ffc2d3"/>
<rect x="622.0" y="249" width="3.1" height="123.5" fill="#ff1656"/>
<rect x="624.5" y="249" width="7.3" height="123.5" fill="#ff98b6"/>
<rect x="631.2" y="249" width="5.6" height="123.5" fill="#ffffff"/>
<rect x="636.2" y="249" width="3.6" height="123.5" fill="#ff5c88"/>
<rect x="639.2" y="249" width="13.1" height="123.5" fill="#ffa4be"/>
<rect x="651.8" y="249" width="10.6" height="123.5" fill="#ffb6cb"/>
<rect x="661.8" y="249" width="3.6" height="123.5" fill="#fff2f6"/>
<rect x="664.8" y="249" width="6.3" height="123.5" fill="#ff4779"/>
<rect x="670.5" y="249" width="3.1" height="123.5" fill="#ffffff"/>
<rect x="673.0" y="249" width="16.6" height="123.5" fill="#ffdde6"/>
<rect x="689.0" y="249" width="15.6" height="123.5" fill="#ff8cad"/>
<rect x="704.0" y="249" width="3.1" height="123.5" fill="#ffd4e0"/>
<rect x="706.5" y="249" width="10.6" height="123.5" fill="#ffe5ec"/>
<rect x="716.5" y="249" width="10.6" height="123.5" fill="#ffaac3"/>
<rect x="726.5" y="249" width="8.1" height="123.5" fill="#ffd4e0"/>
<rect x="734.0" y="249" width="3.6" height="123.5" fill="#ff396f"/>
<rect x="737.0" y="249" width="8.6" height="123.5" fill="#ffdde6"/>
<rect x="745.0" y="249" width="2.6" height="123.5" fill="#ffffff"/>
<rect x="747.0" y="249" width="2.9" height="123.5" fill="#cad0f9"/>
<rect x="749.2" y="249" width="10.8" height="123.5" fill="#a2abf1"/>
<rect x="759.5" y="249" width="3.6" height="123.5" fill="#c3c9f8"/>
<rect x="762.5" y="249" width="10.8" height="123.5" fill="#a2abf1"/>
<rect x="772.8" y="249" width="4.1" height="123.5" fill="#c3c9f8"/>
<rect x="776.2" y="249" width="18.1" height="123.5" fill="#959eee"/>
<rect x="793.8" y="249" width="4.1" height="123.5" fill="#b4bcf6"/>
<rect x="797.2" y="249" width="19.4" height="123.5" fill="#959eee"/>
<rect x="816.0" y="249" width="3.4" height="123.5" fill="#b0b8f5"/>
<rect x="818.8" y="249" width="10.3" height="123.5" fill="#a7aff2"/>
<rect x="828.5" y="249" width="9.6" height="123.5" fill="#9aa2ef"/>
<rect x="837.5" y="249" width="2.9" height="123.5" fill="#727fe8"/>
<rect x="839.8" y="249" width="13.1" height="123.5" fill="#a7aff2"/>
<rect x="852.2" y="249" width="3.4" height="123.5" fill="#c3c9f8"/>
<rect x="855.0" y="249" width="6.1" height="123.5" fill="#9aa2ef"/>
<rect x="860.5" y="249" width="10.3" height="123.5" fill="#919aec"/>
<rect x="870.2" y="249" width="4.8" height="123.5" fill="#7682e8"/>
<rect x="874.5" y="249" width="4.8" height="123.5" fill="#cad0f9"/>
<rect x="878.8" y="249" width="13.1" height="123.5" fill="#959eee"/>
<rect x="891.2" y="249" width="6.1" height="123.5" fill="#abb3f4"/>
<rect x="896.8" y="249" width="14.6" height="123.5" fill="#959eee"/>
<rect x="910.8" y="249" width="3.4" height="123.5" fill="#7a85e8"/>
<rect x="913.5" y="249" width="3.4" height="123.5" fill="#b4bcf6"/>
<rect x="916.2" y="249" width="9.1" height="123.5" fill="#8c95eb"/>
<rect x="924.8" y="249" width="21.4" height="123.5" fill="#a2abf1"/>
<rect x="945.5" y="249" width="17.4" height="123.5" fill="#a7aff2"/>
<rect x="962.2" y="249" width="3.4" height="123.5" fill="#8891ea"/>
<rect x="965.0" y="249" width="3.4" height="123.5" fill="#c3c9f8"/>
<rect x="967.8" y="249" width="14.6" height="123.5" fill="#959eee"/>
<rect x="981.8" y="249" width="2.6" height="123.5" fill="#7d88e9"/>
<rect x="983.8" y="249" width="20.9" height="123.5" fill="#b4bcf6"/>
<rect x="1004.0" y="249" width="21.6" height="123.5" fill="#a2abf1"/>
<rect x="1025.0" y="249" width="13.8" height="123.5" fill="#959eee"/>
<rect x="1038.2" y="249" width="4.8" height="123.5" fill="#cad0f9"/>
<rect x="1042.5" y="249" width="5.3" height="123.5" fill="#a7aff2"/>
<rect x="1047.2" y="249" width="11.8" height="123.5" fill="#a2abf1"/>
<rect x="1058.5" y="249" width="10.3" height="123.5" fill="#919aec"/>
<rect x="1068.2" y="249" width="3.4" height="123.5" fill="#727fe8"/>
<rect x="1071.0" y="249" width="7.6" height="123.5" fill="#a2abf1"/>
<rect x="1078.0" y="249" width="14.3" height="123.5" fill="#919aec"/>
<rect x="1091.8" y="249" width="11.8" height="123.5" fill="#bcc3f7"/>
<rect x="1103.0" y="249" width="6.1" height="123.5" fill="#a7aff2"/>
<rect x="1108.5" y="249" width="9.1" height="123.5" fill="#959eee"/>
<rect x="1117.0" y="249" width="4.6" height="123.5" fill="#e8ebfc"/>
<rect x="1121.0" y="249" width="10.3" height="123.5" fill="#919aec"/>
<rect x="1130.8" y="249" width="3.6" height="123.5" fill="#bcc3f7"/>
<rect x="1133.8" y="249" width="3.4" height="123.5" fill="#7a85e8"/>
<rect x="1136.5" y="249" width="10.3" height="123.5" fill="#a2abf1"/>
<rect x="1146.2" y="249" width="3.4" height="123.5" fill="#727fe8"/>
<rect x="1149.0" y="249" width="8.8" height="123.5" fill="#a7aff2"/>
<rect x="1157.2" y="249" width="10.3" height="123.5" fill="#919aec"/>
<rect x="1167.0" y="249" width="29.9" height="123.5" fill="#9aa2ef"/>
<rect x="1196.2" y="249" width="6.3" height="123.5" fill="#8891ea"/>
<rect x="1202.0" y="249" width="6.1" height="123.5" fill="#bcc3f7"/>
<rect x="1207.5" y="249" width="17.4" height="123.5" fill="#8c95eb"/>
<rect x="1224.2" y="249" width="7.6" height="123.5" fill="#a7aff2"/>
<rect x="1231.2" y="249" width="14.3" height="123.5" fill="#959eee"/>
<rect x="1245.0" y="249" width="3.4" height="123.5" fill="#cad0f9"/>
<rect x="1247.8" y="249" width="9.1" height="123.5" fill="#b0b8f5"/>
<rect x="1256.2" y="249" width="3.4" height="123.5" fill="#818be9"/>
<rect x="1259.0" y="249" width="7.6" height="123.5" fill="#e8ebfc"/>
<rect x="1266.0" y="249" width="8.8" height="123.5" fill="#6473e6"/>
<rect x="1274.2" y="249" width="21.6" height="123.5" fill="#a2abf1"/>
<rect x="1295.2" y="249" width="7.6" height="123.5" fill="#e8ebfc"/>
<rect x="1302.2" y="249" width="3.4" height="123.5" fill="#8891ea"/>
<rect x="1305.0" y="249" width="2.6" height="123.5" fill="#727fe8"/>
<rect x="1307.0" y="249" width="9.8" height="123.5" fill="#919aec"/>
<rect x="1316.2" y="249" width="4.6" height="123.5" fill="#c3c9f8"/>
<rect x="1320.2" y="249" width="22.9" height="123.5" fill="#9aa2ef"/>
<rect x="1342.5" y="249" width="6.3" height="123.5" fill="#bcc3f7"/>
<rect x="1348.2" y="249" width="4.6" height="123.5" fill="#6b79e7"/>
<rect x="1352.2" y="249" width="11.8" height="123.5" fill="#b0b8f5"/>
<rect x="1363.5" y="249" width="4.8" height="123.5" fill="#dadefa"/>
<rect x="1367.8" y="249" width="15.8" height="123.5" fill="#a2abf1"/>
<rect x="1383.0" y="249" width="10.3" height="123.5" fill="#8c95eb"/>
<rect x="1392.8" y="249" width="4.8" height="123.5" fill="#ffffff"/>
<rect x="1397.0" y="249" width="6.1" height="123.5" fill="#8c95eb"/>
<rect x="1402.5" y="249" width="10.3" height="123.5" fill="#b0b8f5"/>
<rect x="1412.2" y="249" width="3.4" height="123.5" fill="#919aec"/>
<rect x="1415.0" y="249" width="2.1" height="123.5" fill="#b4bcf6"/>
<rect x="1416.5" y="249" width="14.3" height="123.5" fill="#919aec"/>
<rect x="1430.2" y="249" width="6.3" height="123.5" fill="#b0b8f5"/>
<rect x="1436.0" y="249" width="7.6" height="123.5" fill="#c3c9f8"/>
<rect x="1443.0" y="249" width="13.1" height="123.5" fill="#919aec"/>
<rect x="1455.5" y="249" width="3.4" height="123.5" fill="#b0b8f5"/>
<rect x="1458.2" y="249" width="28.4" height="123.5" fill="#959eee"/>
<rect x="1486.0" y="249" width="3.4" height="123.5" fill="#6473e6"/>
<rect x="1488.8" y="249" width="9.1" height="123.5" fill="#abb3f4"/>
<rect x="1497.2" y="249" width="14.6" height="123.5" fill="#bcc3f7"/>
<rect x="1511.2" y="249" width="6.1" height="123.5" fill="#919aec"/>
<rect x="1516.8" y="249" width="4.8" height="123.5" fill="#e8ebfc"/>
<rect x="1521.0" y="249" width="7.3" height="123.5" fill="#8891ea"/>
<rect x="1527.8" y="249" width="35.6" height="123.5" fill="#959eee"/>
<rect x="1562.8" y="249" width="3.4" height="123.5" fill="#bcc3f7"/>
<rect x="1565.5" y="249" width="9.6" height="123.5" fill="#919aec"/>
<rect x="1574.5" y="249" width="2.6" height="123.5" fill="#9ea6f0"/>
<rect x="1576.5" y="249" width="9.6" height="123.5" fill="#ff86a8"/>
<rect x="1585.5" y="249" width="3.1" height="123.5" fill="#ffd4e0"/>
<rect x="1588.0" y="249" width="2.4" height="123.5" fill="#ff5c88"/>
<rect x="1589.8" y="249" width="3.6" height="123.5" fill="#ff98b6"/>
<rect x="1592.8" y="249" width="5.8" height="123.5" fill="#ff749a"/>
<rect x="1598.0" y="249" width="13.1" height="123.5" fill="#ffd4e0"/>
<rect x="1610.5" y="249" width="7.8" height="123.5" fill="#ffc2d3"/>
<rect x="1617.8" y="249" width="8.3" height="123.5" fill="#ffa4be"/>
<rect x="1625.5" y="249" width="3.6" height="123.5" fill="#ffffff"/>
<rect x="1628.5" y="249" width="7.8" height="123.5" fill="#ff749a"/>
<rect x="1635.8" y="249" width="11.3" height="123.5" fill="#ff98b6"/>
<rect x="1646.5" y="249" width="4.1" height="123.5" fill="#ffd4e0"/>
<rect x="1650.0" y="249" width="3.6" height="123.5" fill="#ff396f"/>
<rect x="1653.0" y="249" width="4.8" height="123.5" fill="#ffffff"/>
<rect x="1657.2" y="249" width="6.6" height="123.5" fill="#ffc2d3"/>
<rect x="1663.2" y="249" width="7.6" height="123.5" fill="#ffdde6"/>
<rect x="1670.2" y="249" width="6.6" height="123.5" fill="#ffa4be"/>
<rect x="1676.2" y="249" width="5.3" height="123.5" fill="#ffffff"/>
<rect x="1681.0" y="249" width="11.3" height="123.5" fill="#ff98b6"/>
<rect x="1691.8" y="249" width="3.6" height="123.5" fill="#ff1d5b"/>
<rect x="1694.8" y="249" width="8.3" height="123.5" fill="#ff8cad"/>
<rect x="1702.5" y="249" width="17.4" height="123.5" fill="#ffb6cb"/>
<rect x="1719.2" y="249" width="12.6" height="123.5" fill="#ff8cad"/>
<rect x="1731.2" y="249" width="1.9" height="123.5" fill="#ffffff"/>
<rect x="1732.5" y="249" width="7.6" height="123.5" fill="#a7aff2"/>
<rect x="1739.5" y="249" width="5.3" height="123.5" fill="#8891ea"/>
<rect x="1744.2" y="249" width="6.6" height="123.5" fill="#d2d7fa"/>
<rect x="1750.2" y="249" width="22.1" height="123.5" fill="#919aec"/>
<rect x="1771.8" y="249" width="1.9" height="123.5" fill="#c3c9f8"/>
<rect x="1773.0" y="249" width="16.1" height="123.5" fill="#ffa4be"/>
<rect x="1788.5" y="249" width="4.1" height="123.5" fill="#ff5c88"/>
<rect x="1792.0" y="249" width="4.3" height="123.5" fill="#ffd4e0"/>
<rect x="1795.8" y="249" width="4.1" height="123.5" fill="#919aec"/>
<rect x="1799.2" y="249" width="5.3" height="123.5" fill="#c3c9f8"/>
<rect x="1804.0" y="249" width="5.6" height="123.5" fill="#9ea6f0"/>
<rect x="113.0" y="372.5" width="2.4" height="121.5" fill="#ffd4e0"/>
<rect x="114.8" y="372.5" width="2.6" height="121.5" fill="#818be9"/>
<rect x="116.8" y="372.5" width="5.6" height="121.5" fill="#a7aff2"/>
<rect x="121.8" y="372.5" width="3.1" height="121.5" fill="#ff4779"/>
<rect x="124.2" y="372.5" width="5.6" height="121.5" fill="#ff8cad"/>
<rect x="129.2" y="372.5" width="4.3" height="121.5" fill="#ffffff"/>
<rect x="133.0" y="372.5" width="5.3" height="121.5" fill="#ffb0c7"/>
<rect x="137.8" y="372.5" width="2.6" height="121.5" fill="#ff4779"/>
<rect x="139.8" y="372.5" width="3.6" height="121.5" fill="#ffffff"/>
<rect x="142.8" y="372.5" width="8.1" height="121.5" fill="#ff8cad"/>
<rect x="150.2" y="372.5" width="5.6" height="121.5" fill="#959eee"/>
<rect x="155.2" y="372.5" width="3.1" height="121.5" fill="#8891ea"/>
<rect x="157.8" y="372.5" width="4.3" height="121.5" fill="#cad0f9"/>
<rect x="161.5" y="372.5" width="9.3" height="121.5" fill="#727fe8"/>
<rect x="170.2" y="372.5" width="10.6" height="121.5" fill="#8c95eb"/>
<rect x="180.2" y="372.5" width="3.1" height="121.5" fill="#b4bcf6"/>
<rect x="182.8" y="372.5" width="2.9" height="121.5" fill="#919aec"/>
<rect x="185.0" y="372.5" width="4.3" height="121.5" fill="#c3c9f8"/>
<rect x="188.8" y="372.5" width="13.1" height="121.5" fill="#9ea6f0"/>
<rect x="201.2" y="372.5" width="13.1" height="121.5" fill="#a2abf1"/>
<rect x="213.8" y="372.5" width="9.3" height="121.5" fill="#959eee"/>
<rect x="222.5" y="372.5" width="11.6" height="121.5" fill="#8c95eb"/>
<rect x="233.5" y="372.5" width="4.3" height="121.5" fill="#a2abf1"/>
<rect x="237.2" y="372.5" width="14.3" height="121.5" fill="#9aa2ef"/>
<rect x="251.0" y="372.5" width="4.3" height="121.5" fill="#d2d7fa"/>
<rect x="254.8" y="372.5" width="13.1" height="121.5" fill="#a2abf1"/>
<rect x="267.2" y="372.5" width="17.9" height="121.5" fill="#9ea6f0"/>
<rect x="284.5" y="372.5" width="10.6" height="121.5" fill="#8891ea"/>
<rect x="294.5" y="372.5" width="10.6" height="121.5" fill="#a2abf1"/>
<rect x="304.5" y="372.5" width="3.9" height="121.5" fill="#ffffff"/>
<rect x="307.8" y="372.5" width="4.8" height="121.5" fill="#7682e8"/>
<rect x="312.0" y="372.5" width="8.1" height="121.5" fill="#a2abf1"/>
<rect x="319.5" y="372.5" width="5.6" height="121.5" fill="#5969e4"/>
<rect x="324.5" y="372.5" width="5.6" height="121.5" fill="#8891ea"/>
<rect x="329.5" y="372.5" width="9.1" height="121.5" fill="#919aec"/>
<rect x="338.0" y="372.5" width="6.8" height="121.5" fill="#bcc3f7"/>
<rect x="344.2" y="372.5" width="4.3" height="121.5" fill="#8891ea"/>
<rect x="348.0" y="372.5" width="10.6" height="121.5" fill="#9ea6f0"/>
<rect x="358.0" y="372.5" width="5.6" height="121.5" fill="#919aec"/>
<rect x="363.0" y="372.5" width="3.1" height="121.5" fill="#b0b8f5"/>
<rect x="365.5" y="372.5" width="3.1" height="121.5" fill="#727fe8"/>
<rect x="368.0" y="372.5" width="4.3" height="121.5" fill="#bcc3f7"/>
<rect x="371.8" y="372.5" width="4.3" height="121.5" fill="#8891ea"/>
<rect x="375.5" y="372.5" width="10.3" height="121.5" fill="#a2abf1"/>
<rect x="385.2" y="372.5" width="4.3" height="121.5" fill="#b4bcf6"/>
<rect x="389.0" y="372.5" width="3.1" height="121.5" fill="#8891ea"/>
<rect x="391.5" y="372.5" width="8.1" height="121.5" fill="#c3c9f8"/>
<rect x="399.0" y="372.5" width="6.8" height="121.5" fill="#a7aff2"/>
<rect x="405.2" y="372.5" width="14.3" height="121.5" fill="#919aec"/>
<rect x="419.0" y="372.5" width="3.1" height="121.5" fill="#7d88e9"/>
<rect x="421.5" y="372.5" width="9.3" height="121.5" fill="#a2abf1"/>
<rect x="430.2" y="372.5" width="7.8" height="121.5" fill="#abb3f4"/>
<rect x="437.5" y="372.5" width="5.6" height="121.5" fill="#a2abf1"/>
<rect x="442.5" y="372.5" width="9.3" height="121.5" fill="#8891ea"/>
<rect x="451.2" y="372.5" width="8.1" height="121.5" fill="#a7aff2"/>
<rect x="458.8" y="372.5" width="3.1" height="121.5" fill="#7d88e9"/>
<rect x="461.2" y="372.5" width="6.8" height="121.5" fill="#b4bcf6"/>
<rect x="467.5" y="372.5" width="8.1" height="121.5" fill="#7682e8"/>
<rect x="475.0" y="372.5" width="8.1" height="121.5" fill="#a2abf1"/>
<rect x="482.5" y="372.5" width="5.3" height="121.5" fill="#b4bcf6"/>
<rect x="487.2" y="372.5" width="6.8" height="121.5" fill="#abb3f4"/>
<rect x="493.5" y="372.5" width="11.8" height="121.5" fill="#a2abf1"/>
<rect x="504.8" y="372.5" width="8.1" height="121.5" fill="#919aec"/>
<rect x="512.2" y="372.5" width="11.8" height="121.5" fill="#a2abf1"/>
<rect x="523.5" y="372.5" width="9.3" height="121.5" fill="#b0b8f5"/>
<rect x="532.2" y="372.5" width="9.1" height="121.5" fill="#a2abf1"/>
<rect x="540.8" y="372.5" width="3.1" height="121.5" fill="#818be9"/>
<rect x="543.2" y="372.5" width="9.3" height="121.5" fill="#abb3f4"/>
<rect x="552.0" y="372.5" width="5.6" height="121.5" fill="#727fe8"/>
<rect x="557.0" y="372.5" width="8.1" height="121.5" fill="#a7aff2"/>
<rect x="564.5" y="372.5" width="11.8" height="121.5" fill="#919aec"/>
<rect x="575.8" y="372.5" width="4.3" height="121.5" fill="#bcc3f7"/>
<rect x="579.5" y="372.5" width="10.3" height="121.5" fill="#8891ea"/>
<rect x="589.2" y="372.5" width="13.3" height="121.5" fill="#bcc3f7"/>
<rect x="602.0" y="372.5" width="4.1" height="121.5" fill="#959eee"/>
<rect x="605.5" y="372.5" width="3.9" height="121.5" fill="#818be9"/>
<rect x="608.8" y="372.5" width="8.6" height="121.5" fill="#a2abf1"/>
<rect x="616.8" y="372.5" width="7.8" height="121.5" fill="#8c95eb"/>
<rect x="624.0" y="372.5" width="12.3" height="121.5" fill="#b0b8f5"/>
<rect x="635.8" y="372.5" width="6.3" height="121.5" fill="#9ea6f0"/>
<rect x="641.5" y="372.5" width="3.6" height="121.5" fill="#6b79e7"/>
<rect x="644.5" y="372.5" width="3.9" height="121.5" fill="#8c95eb"/>
<rect x="647.8" y="372.5" width="3.9" height="121.5" fill="#a7aff2"/>
<rect x="651.0" y="372.5" width="3.9" height="121.5" fill="#8c95eb"/>
<rect x="654.2" y="372.5" width="3.6" height="121.5" fill="#c3c9f8"/>
<rect x="657.2" y="372.5" width="3.9" height="121.5" fill="#8891ea"/>
<rect x="660.5" y="372.5" width="4.6" height="121.5" fill="#bcc3f7"/>
<rect x="664.5" y="372.5" width="6.8" height="121.5" fill="#6b79e7"/>
<rect x="670.8" y="372.5" width="15.8" height="121.5" fill="#a2abf1"/>
<rect x="686.0" y="372.5" width="8.6" height="121.5" fill="#abb3f4"/>
<rect x="694.0" y="372.5" width="7.6" height="121.5" fill="#959eee"/>
<rect x="701.0" y="372.5" width="3.1" height="121.5" fill="#8891ea"/>
<rect x="703.5" y="372.5" width="12.6" height="121.5" fill="#9ea6f0"/>
<rect x="715.5" y="372.5" width="2.9" height="121.5" fill="#8891ea"/>
<rect x="717.8" y="372.5" width="8.6" height="121.5" fill="#9ea6f0"/>
<rect x="725.8" y="372.5" width="4.6" height="121.5" fill="#c3c9f8"/>
<rect x="729.8" y="372.5" width="5.3" height="121.5" fill="#a7aff2"/>
<rect x="734.5" y="372.5" width="7.1" height="121.5" fill="#8c95eb"/>
<rect x="741.0" y="372.5" width="8.6" height="121.5" fill="#a2abf1"/>
<rect x="749.0" y="372.5" width="2.1" height="121.5" fill="#8891ea"/>
<rect x="750.5" y="372.5" width="3.4" height="121.5" fill="#ffffff"/>
<rect x="753.2" y="372.5" width="2.6" height="121.5" fill="#ffc2d3"/>
<rect x="755.2" y="372.5" width="3.9" height="121.5" fill="#ffeef3"/>
<rect x="758.5" y="372.5" width="3.6" height="121.5" fill="#ffc2d3"/>
<rect x="761.5" y="372.5" width="3.1" height="121.5" fill="#fff2f6"/>
<rect x="764.0" y="372.5" width="5.3" height="121.5" fill="#ff7a9f"/>
<rect x="768.8" y="372.5" width="5.6" height="121.5" fill="#ff2460"/>
<rect x="773.8" y="372.5" width="4.6" height="121.5" fill="#ffffff"/>
<rect x="777.8" y="372.5" width="11.6" height="121.5" fill="#e8ebfc"/>
<rect x="788.8" y="372.5" width="10.6" height="121.5" fill="#fff2f6"/>
<rect x="798.8" y="372.5" width="5.6" height="121.5" fill="#ffc8d8"/>
<rect x="803.8" y="372.5" width="6.6" height="121.5" fill="#ffe5ec"/>
<rect x="809.8" y="372.5" width="3.6" height="121.5" fill="#ffa4be"/>
<rect x="812.8" y="372.5" width="4.3" height="121.5" fill="#ffffff"/>
<rect x="816.5" y="372.5" width="9.6" height="121.5" fill="#ffeaf0"/>
<rect x="825.5" y="372.5" width="9.6" height="121.5" fill="#ffa4be"/>
<rect x="834.5" y="372.5" width="6.6" height="121.5" fill="#ff8cad"/>
<rect x="840.5" y="372.5" width="14.6" height="121.5" fill="#ffd8e3"/>
<rect x="854.5" y="372.5" width="7.6" height="121.5" fill="#ff98b6"/>
<rect x="861.5" y="372.5" width="2.6" height="121.5" fill="#ffffff"/>
<rect x="863.5" y="372.5" width="10.3" height="121.5" fill="#ffc8d8"/>
<rect x="873.2" y="372.5" width="2.1" height="121.5" fill="#ffffff"/>
<rect x="874.8" y="372.5" width="3.1" height="121.5" fill="#ff1656"/>
<rect x="877.2" y="372.5" width="14.6" height="121.5" fill="#ffb6cb"/>
<rect x="891.2" y="372.5" width="7.6" height="121.5" fill="#ffffff"/>
<rect x="898.2" y="372.5" width="5.1" height="121.5" fill="#ff2460"/>
<rect x="902.8" y="372.5" width="7.1" height="121.5" fill="#ffffff"/>
<rect x="909.2" y="372.5" width="12.3" height="121.5" fill="#ffdde6"/>
<rect x="921.0" y="372.5" width="8.6" height="121.5" fill="#ffc2d3"/>
<rect x="929.0" y="372.5" width="3.1" height="121.5" fill="#ffffff"/>
<rect x="931.5" y="372.5" width="4.1" height="121.5" fill="#ff4779"/>
<rect x="935.0" y="372.5" width="5.6" height="121.5" fill="#ff98b6"/>
<rect x="940.0" y="372.5" width="6.6" height="121.5" fill="#ffd8e3"/>
<rect x="946.0" y="372.5" width="3.1" height="121.5" fill="#ff4e7e"/>
<rect x="948.5" y="372.5" width="14.1" height="121.5" fill="#f8f8fe"/>
<rect x="962.0" y="372.5" width="2.6" height="121.5" fill="#ff98b6"/>
<rect x="964.0" y="372.5" width="3.4" height="121.5" fill="#ffffff"/>
<rect x="966.8" y="372.5" width="5.6" height="121.5" fill="#ffd4e0"/>
<rect x="971.8" y="372.5" width="15.6" height="121.5" fill="#ff98b6"/>
<rect x="986.8" y="372.5" width="8.1" height="121.5" fill="#f0f2fd"/>
<rect x="994.2" y="372.5" width="2.6" height="121.5" fill="#ff5c88"/>
<rect x="996.2" y="372.5" width="8.1" height="121.5" fill="#ffc2d3"/>
<rect x="1003.8" y="372.5" width="7.6" height="121.5" fill="#ff7a9f"/>
<rect x="1010.8" y="372.5" width="6.3" height="121.5" fill="#ff1656"/>
<rect x="1016.5" y="372.5" width="4.6" height="121.5" fill="#ffffff"/>
<rect x="1020.5" y="372.5" width="5.6" height="121.5" fill="#e1e4fb"/>
<rect x="1025.5" y="372.5" width="3.6" height="121.5" fill="#ff4e7e"/>
<rect x="1028.5" y="372.5" width="12.6" height="121.5" fill="#ffc2d3"/>
<rect x="1040.5" y="372.5" width="2.6" height="121.5" fill="#ffffff"/>
<rect x="1042.5" y="372.5" width="2.1" height="121.5" fill="#ff98b6"/>
<rect x="1044.0" y="372.5" width="3.1" height="121.5" fill="#ffffff"/>
<rect x="1046.5" y="372.5" width="8.6" height="121.5" fill="#ffd8e3"/>
<rect x="1054.5" y="372.5" width="4.6" height="121.5" fill="#ffffff"/>
<rect x="1058.5" y="372.5" width="4.6" height="121.5" fill="#ffa4be"/>
<rect x="1062.5" y="372.5" width="10.3" height="121.5" fill="#ffd4e0"/>
<rect x="1072.2" y="372.5" width="20.6" height="121.5" fill="#ff98b6"/>
<rect x="1092.2" y="372.5" width="8.6" height="121.5" fill="#ffdde6"/>
<rect x="1100.2" y="372.5" width="5.6" height="121.5" fill="#ff6891"/>
<rect x="1105.2" y="372.5" width="6.6" height="121.5" fill="#ffffff"/>
<rect x="1111.2" y="372.5" width="6.3" height="121.5" fill="#ff8cad"/>
<rect x="1117.0" y="372.5" width="4.6" height="121.5" fill="#ff4779"/>
<rect x="1121.0" y="372.5" width="8.6" height="121.5" fill="#ff86a8"/>
<rect x="1129.0" y="372.5" width="8.6" height="121.5" fill="#ffb6cb"/>
<rect x="1137.0" y="372.5" width="3.6" height="121.5" fill="#ff396f"/>
<rect x="1140.0" y="372.5" width="2.6" height="121.5" fill="#ff2460"/>
<rect x="1142.0" y="372.5" width="10.6" height="121.5" fill="#ff5c88"/>
<rect x="1152.0" y="372.5" width="5.1" height="121.5" fill="#ffffff"/>
<rect x="1156.5" y="372.5" width="3.6" height="121.5" fill="#ffc2d3"/>
<rect x="1159.5" y="372.5" width="3.6" height="121.5" fill="#ffffff"/>
<rect x="1162.5" y="372.5" width="2.6" height="121.5" fill="#ff98b6"/>
<rect x="1164.5" y="372.5" width="15.8" height="121.5" fill="#ffe1e9"/>
<rect x="1179.8" y="372.5" width="4.6" height="121.5" fill="#ffb6cb"/>
<rect x="1183.8" y="372.5" width="16.6" height="121.5" fill="#ffdde6"/>
<rect x="1199.8" y="372.5" width="3.6" height="121.5" fill="#ff4779"/>
<rect x="1202.8" y="372.5" width="5.6" height="121.5" fill="#ffc2d3"/>
<rect x="1207.8" y="372.5" width="6.6" height="121.5" fill="#ff8cad"/>
<rect x="1213.8" y="372.5" width="2.4" height="121.5" fill="#ff4779"/>
<rect x="1215.5" y="372.5" width="5.6" height="121.5" fill="#ffffff"/>
<rect x="1220.5" y="372.5" width="3.6" height="121.5" fill="#ff98b6"/>
<rect x="1223.5" y="372.5" width="9.6" height="121.5" fill="#ffc2d3"/>
<rect x="1232.5" y="372.5" width="10.6" height="121.5" fill="#ffdde6"/>
<rect x="1242.5" y="372.5" width="4.1" height="121.5" fill="#ffffff"/>
<rect x="1246.0" y="372.5" width="3.1" height="121.5" fill="#ffc8d8"/>
<rect x="1248.5" y="372.5" width="4.6" height="121.5" fill="#fff2f6"/>
<rect x="1252.5" y="372.5" width="7.1" height="121.5" fill="#ffbccf"/>
<rect x="1259.0" y="372.5" width="5.1" height="121.5" fill="#ff4e7e"/>
<rect x="1263.5" y="372.5" width="10.3" height="121.5" fill="#ff6891"/>
<rect x="1273.2" y="372.5" width="9.6" height="121.5" fill="#ff80a4"/>
<rect x="1282.2" y="372.5" width="8.6" height="121.5" fill="#ffa4be"/>
<rect x="1290.2" y="372.5" width="6.1" height="121.5" fill="#ffffff"/>
<rect x="1295.8" y="372.5" width="6.1" height="121.5" fill="#ff86a8"/>
<rect x="1301.2" y="372.5" width="4.6" height="121.5" fill="#ffb0c7"/>
<rect x="1305.2" y="372.5" width="7.6" height="121.5" fill="#ffc8d8"/>
<rect x="1312.2" y="372.5" width="5.3" height="121.5" fill="#ff7a9f"/>
<rect x="1317.0" y="372.5" width="8.6" height="121.5" fill="#ffaac3"/>
<rect x="1325.0" y="372.5" width="7.6" height="121.5" fill="#ff6891"/>
<rect x="1332.0" y="372.5" width="3.6" height="121.5" fill="#ffffff"/>
<rect x="1335.0" y="372.5" width="5.6" height="121.5" fill="#ffb6cb"/>
<rect x="1340.0" y="372.5" width="4.3" height="121.5" fill="#ff98b6"/>
<rect x="1343.8" y="372.5" width="4.3" height="121.5" fill="#ffdde6"/>
<rect x="1347.5" y="372.5" width="6.8" height="121.5" fill="#ffb0c7"/>
<rect x="1353.8" y="372.5" width="5.6" height="121.5" fill="#ff98b6"/>
<rect x="1358.8" y="372.5" width="5.6" height="121.5" fill="#ff396f"/>
<rect x="1363.8" y="372.5" width="6.1" height="121.5" fill="#ff8cad"/>
<rect x="1369.2" y="372.5" width="3.6" height="121.5" fill="#ff5c88"/>
<rect x="1372.2" y="372.5" width="13.1" height="121.5" fill="#ff98b6"/>
<rect x="1384.8" y="372.5" width="3.1" height="121.5" fill="#ff5c88"/>
<rect x="1387.2" y="372.5" width="8.1" height="121.5" fill="#ffffff"/>
<rect x="1394.8" y="372.5" width="4.3" height="121.5" fill="#ff8cad"/>
<rect x="1398.5" y="372.5" width="3.1" height="121.5" fill="#ffd4e0"/>
<rect x="1401.0" y="372.5" width="4.3" height="121.5" fill="#ff8cad"/>
<rect x="1404.8" y="372.5" width="11.6" height="121.5" fill="#fff2f6"/>
<rect x="1415.8" y="372.5" width="14.3" height="121.5" fill="#ffbccf"/>
<rect x="1429.5" y="372.5" width="6.3" height="121.5" fill="#ff8cad"/>
<rect x="1435.2" y="372.5" width="3.6" height="121.5" fill="#ffffff"/>
<rect x="1438.2" y="372.5" width="4.3" height="121.5" fill="#ffc2d3"/>
<rect x="1442.0" y="372.5" width="4.3" height="121.5" fill="#ff2460"/>
<rect x="1445.8" y="372.5" width="6.8" height="121.5" fill="#ff6891"/>
<rect x="1452.0" y="372.5" width="8.1" height="121.5" fill="#ff4e7e"/>
<rect x="1459.5" y="372.5" width="7.8" height="121.5" fill="#ffb6cb"/>
<rect x="1466.8" y="372.5" width="16.9" height="121.5" fill="#ff98b6"/>
<rect x="1483.0" y="372.5" width="6.3" height="121.5" fill="#ffd4e0"/>
<rect x="1488.8" y="372.5" width="3.6" height="121.5" fill="#ffffff"/>
<rect x="1491.8" y="372.5" width="13.1" height="121.5" fill="#ffe1e9"/>
<rect x="1504.2" y="372.5" width="3.1" height="121.5" fill="#ffffff"/>
<rect x="1506.8" y="372.5" width="8.1" height="121.5" fill="#ff98b6"/>
<rect x="1514.2" y="372.5" width="7.8" height="121.5" fill="#ffbccf"/>
<rect x="1521.5" y="372.5" width="8.1" height="121.5" fill="#ff8cad"/>
<rect x="1529.0" y="372.5" width="3.9" height="121.5" fill="#ff5c88"/>
<rect x="1532.2" y="372.5" width="4.8" height="121.5" fill="#ffdde6"/>
<rect x="1536.5" y="372.5" width="10.6" height="121.5" fill="#ff98b6"/>
<rect x="1546.5" y="372.5" width="5.6" height="121.5" fill="#ff4e7e"/>
<rect x="1551.5" y="372.5" width="8.1" height="121.5" fill="#ffc2d3"/>
<rect x="1559.0" y="372.5" width="5.6" height="121.5" fill="#ffe5ec"/>
<rect x="1564.0" y="372.5" width="2.4" height="121.5" fill="#ff98b6"/>
<rect x="1565.8" y="372.5" width="4.3" height="121.5" fill="#ffffff"/>
<rect x="1569.5" y="372.5" width="1.1" height="121.5" fill="#ffb0c7"/>
<rect x="1570.0" y="372.5" width="7.1" height="121.5" fill="#ff98b6"/>
<rect x="1576.5" y="372.5" width="13.1" height="121.5" fill="#9aa2ef"/>
<rect x="1589.0" y="372.5" width="5.6" height="121.5" fill="#8c95eb"/>
<rect x="1594.0" y="372.5" width="16.1" height="121.5" fill="#959eee"/>
<rect x="1609.5" y="372.5" width="16.1" height="121.5" fill="#8c95eb"/>
<rect x="1625.0" y="372.5" width="4.1" height="121.5" fill="#c3c9f8"/>
<rect x="1628.5" y="372.5" width="25.6" height="121.5" fill="#959eee"/>
<rect x="1653.5" y="372.5" width="7.8" height="121.5" fill="#a7aff2"/>
<rect x="1660.8" y="372.5" width="3.1" height="121.5" fill="#818be9"/>
<rect x="1663.2" y="372.5" width="2.9" height="121.5" fill="#c3c9f8"/>
<rect x="1665.5" y="372.5" width="57.9" height="121.5" fill="#9aa2ef"/>
<rect x="1722.8" y="372.5" width="4.3" height="121.5" fill="#7682e8"/>
<rect x="1726.5" y="372.5" width="5.3" height="121.5" fill="#b4bcf6"/>
<rect x="1731.2" y="372.5" width="5.3" height="121.5" fill="#ffc8d8"/>
<rect x="1736.0" y="372.5" width="4.1" height="121.5" fill="#ffffff"/>
<rect x="1739.5" y="372.5" width="7.8" height="121.5" fill="#ff98b6"/>
<rect x="1746.8" y="372.5" width="8.8" height="121.5" fill="#ff7a9f"/>
<rect x="1755.0" y="372.5" width="7.8" height="121.5" fill="#ffb0c7"/>
<rect x="1762.2" y="372.5" width="3.1" height="121.5" fill="#ff396f"/>
<rect x="1764.8" y="372.5" width="7.6" height="121.5" fill="#ffdde6"/>
<rect x="1771.8" y="372.5" width="1.9" height="121.5" fill="#ff98b6"/>
<rect x="1773.0" y="372.5" width="23.4" height="121.5" fill="#959eee"/>
<rect x="1795.8" y="372.5" width="7.6" height="121.5" fill="#ffc2d3"/>
<rect x="1802.8" y="372.5" width="3.1" height="121.5" fill="#ff396f"/>
<rect x="1805.2" y="372.5" width="2.4" height="121.5" fill="#ffffff"/>
<rect x="1807.0" y="372.5" width="2.6" height="121.5" fill="#ff98b6"/>
<rect x="113.0" y="494" width="2.4" height="123" fill="#ff7a9f"/>
<rect x="114.8" y="494" width="7.6" height="123" fill="#a7aff2"/>
<rect x="121.8" y="494" width="3.1" height="123" fill="#ffffff"/>
<rect x="124.2" y="494" width="6.1" height="123" fill="#ff7a9f"/>
<rect x="129.8" y="494" width="3.9" height="123" fill="#ff1656"/>
<rect x="133.0" y="494" width="7.3" height="123" fill="#ff6891"/>
<rect x="139.8" y="494" width="3.6" height="123" fill="#ffffff"/>
<rect x="142.8" y="494" width="8.1" height="123" fill="#ffbccf"/>
<rect x="150.2" y="494" width="7.6" height="123" fill="#a7aff2"/>
<rect x="157.2" y="494" width="2.4" height="123" fill="#d2d7fa"/>
<rect x="159.0" y="494" width="2.4" height="123" fill="#5162e3"/>
<rect x="160.8" y="494" width="10.1" height="123" fill="#a7aff2"/>
<rect x="170.2" y="494" width="5.6" height="123" fill="#b4bcf6"/>
<rect x="175.2" y="494" width="15.3" height="123" fill="#a2abf1"/>
<rect x="190.0" y="494" width="11.8" height="123" fill="#959eee"/>
<rect x="201.2" y="494" width="4.3" height="123" fill="#b4bcf6"/>
<rect x="205.0" y="494" width="5.6" height="123" fill="#919aec"/>
<rect x="210.0" y="494" width="8.1" height="123" fill="#a2abf1"/>
<rect x="217.5" y="494" width="34.1" height="123" fill="#959eee"/>
<rect x="251.0" y="494" width="4.3" height="123" fill="#bcc3f7"/>
<rect x="254.8" y="494" width="18.1" height="123" fill="#9ea6f0"/>
<rect x="272.2" y="494" width="3.1" height="123" fill="#e1e4fb"/>
<rect x="274.8" y="494" width="5.6" height="123" fill="#919aec"/>
<rect x="279.8" y="494" width="3.1" height="123" fill="#b4bcf6"/>
<rect x="282.2" y="494" width="25.4" height="123" fill="#959eee"/>
<rect x="307.0" y="494" width="4.3" height="123" fill="#5c6ce5"/>
<rect x="310.8" y="494" width="10.6" height="123" fill="#a7aff2"/>
<rect x="320.8" y="494" width="4.3" height="123" fill="#d2d7fa"/>
<rect x="324.5" y="494" width="4.3" height="123" fill="#8891ea"/>
<rect x="328.2" y="494" width="5.3" height="123" fill="#d2d7fa"/>
<rect x="333.0" y="494" width="25.6" height="123" fill="#919aec"/>
<rect x="358.0" y="494" width="8.1" height="123" fill="#a7aff2"/>
<rect x="365.5" y="494" width="3.6" height="123" fill="#8891ea"/>
<rect x="368.5" y="494" width="3.1" height="123" fill="#c3c9f8"/>
<rect x="371.0" y="494" width="7.6" height="123" fill="#919aec"/>
<rect x="378.0" y="494" width="14.1" height="123" fill="#a2abf1"/>
<rect x="391.5" y="494" width="9.3" height="123" fill="#919aec"/>
<rect x="400.2" y="494" width="5.6" height="123" fill="#a7aff2"/>
<rect x="405.2" y="494" width="11.8" height="123" fill="#919aec"/>
<rect x="416.5" y="494" width="6.8" height="123" fill="#d2d7fa"/>
<rect x="422.8" y="494" width="10.6" height="123" fill="#919aec"/>
<rect x="432.8" y="494" width="15.3" height="123" fill="#a2abf1"/>
<rect x="447.5" y="494" width="4.3" height="123" fill="#818be9"/>
<rect x="451.2" y="494" width="5.6" height="123" fill="#bcc3f7"/>
<rect x="456.2" y="494" width="1.9" height="123" fill="#919aec"/>
<rect x="457.5" y="494" width="3.1" height="123" fill="#cad0f9"/>
<rect x="460.0" y="494" width="4.3" height="123" fill="#8c95eb"/>
<rect x="463.8" y="494" width="11.8" height="123" fill="#a2abf1"/>
<rect x="475.0" y="494" width="4.3" height="123" fill="#919aec"/>
<rect x="478.8" y="494" width="5.3" height="123" fill="#b4bcf6"/>
<rect x="483.5" y="494" width="9.3" height="123" fill="#b0b8f5"/>
<rect x="492.2" y="494" width="5.6" height="123" fill="#dadefa"/>
<rect x="497.2" y="494" width="21.9" height="123" fill="#9aa2ef"/>
<rect x="518.5" y="494" width="3.6" height="123" fill="#6b79e7"/>
<rect x="521.5" y="494" width="13.6" height="123" fill="#abb3f4"/>
<rect x="534.5" y="494" width="10.6" height="123" fill="#8891ea"/>
<rect x="544.5" y="494" width="3.1" height="123" fill="#b4bcf6"/>
<rect x="547.0" y="494" width="8.1" height="123" fill="#8891ea"/>
<rect x="554.5" y="494" width="10.6" height="123" fill="#a2abf1"/>
<rect x="564.5" y="494" width="3.1" height="123" fill="#818be9"/>
<rect x="567.0" y="494" width="16.6" height="123" fill="#abb3f4"/>
<rect x="583.0" y="494" width="4.3" height="123" fill="#d2d7fa"/>
<rect x="586.8" y="494" width="6.8" height="123" fill="#a7aff2"/>
<rect x="593.0" y="494" width="7.6" height="123" fill="#959eee"/>
<rect x="600.0" y="494" width="4.6" height="123" fill="#a2abf1"/>
<rect x="604.0" y="494" width="6.8" height="123" fill="#959eee"/>
<rect x="610.2" y="494" width="6.3" height="123" fill="#9ea6f0"/>
<rect x="616.0" y="494" width="9.3" height="123" fill="#959eee"/>
<rect x="624.8" y="494" width="4.6" height="123" fill="#abb3f4"/>
<rect x="628.8" y="494" width="4.6" height="123" fill="#848eea"/>
<rect x="632.8" y="494" width="4.3" height="123" fill="#bcc3f7"/>
<rect x="636.5" y="494" width="5.6" height="123" fill="#919aec"/>
<rect x="641.5" y="494" width="3.6" height="123" fill="#bcc3f7"/>
<rect x="644.5" y="494" width="7.1" height="123" fill="#a2abf1"/>
<rect x="651.0" y="494" width="5.3" height="123" fill="#b4bcf6"/>
<rect x="655.8" y="494" width="4.6" height="123" fill="#8c95eb"/>
<rect x="659.8" y="494" width="4.6" height="123" fill="#abb3f4"/>
<rect x="663.8" y="494" width="6.8" height="123" fill="#8891ea"/>
<rect x="670.0" y="494" width="3.1" height="123" fill="#dadefa"/>
<rect x="672.5" y="494" width="5.3" height="123" fill="#a2abf1"/>
<rect x="677.2" y="494" width="3.9" height="123" fill="#8891ea"/>
<rect x="680.5" y="494" width="8.6" height="123" fill="#b0b8f5"/>
<rect x="688.5" y="494" width="7.6" height="123" fill="#a2abf1"/>
<rect x="695.5" y="494" width="3.9" height="123" fill="#919aec"/>
<rect x="698.8" y="494" width="16.6" height="123" fill="#9aa2ef"/>
<rect x="714.8" y="494" width="2.9" height="123" fill="#8c95eb"/>
<rect x="717.0" y="494" width="3.9" height="123" fill="#b4bcf6"/>
<rect x="720.2" y="494" width="7.8" height="123" fill="#9ea6f0"/>
<rect x="727.5" y="494" width="4.3" height="123" fill="#848eea"/>
<rect x="731.2" y="494" width="4.6" height="123" fill="#abb3f4"/>
<rect x="735.2" y="494" width="3.9" height="123" fill="#919aec"/>
<rect x="738.5" y="494" width="3.9" height="123" fill="#c3c9f8"/>
<rect x="741.8" y="494" width="5.3" height="123" fill="#8891ea"/>
<rect x="746.5" y="494" width="4.6" height="123" fill="#e8ebfc"/>
<rect x="750.5" y="494" width="5.3" height="123" fill="#ff1656"/>
<rect x="755.2" y="494" width="5.3" height="123" fill="#ff326a"/>
<rect x="760.0" y="494" width="4.6" height="123" fill="#ff2460"/>
<rect x="764.0" y="494" width="5.3" height="123" fill="#ffffff"/>
<rect x="768.8" y="494" width="5.6" height="123" fill="#ffc8d8"/>
<rect x="773.8" y="494" width="3.6" height="123" fill="#ff6891"/>
<rect x="776.8" y="494" width="3.6" height="123" fill="#ffc8d8"/>
<rect x="779.8" y="494" width="18.6" height="123" fill="#ff749a"/>
<rect x="797.8" y="494" width="7.6" height="123" fill="#ffc2d3"/>
<rect x="804.8" y="494" width="15.3" height="123" fill="#ff396f"/>
<rect x="819.5" y="494" width="5.6" height="123" fill="#ff2460"/>
<rect x="824.5" y="494" width="13.6" height="123" fill="#ff4e7e"/>
<rect x="837.5" y="494" width="3.6" height="123" fill="#ffb6cb"/>
<rect x="840.5" y="494" width="4.6" height="123" fill="#ff4779"/>
<rect x="844.5" y="494" width="3.6" height="123" fill="#fff6f9"/>
<rect x="847.5" y="494" width="7.6" height="123" fill="#ff8cad"/>
<rect x="854.5" y="494" width="10.6" height="123" fill="#ff749a"/>
<rect x="864.5" y="494" width="2.4" height="123" fill="#ffc2d3"/>
<rect x="866.2" y="494" width="8.6" height="123" fill="#ff749a"/>
<rect x="874.2" y="494" width="3.6" height="123" fill="#ffffff"/>
<rect x="877.2" y="494" width="16.6" height="123" fill="#ff396f"/>
<rect x="893.2" y="494" width="4.6" height="123" fill="#ff1656"/>
<rect x="897.2" y="494" width="6.6" height="123" fill="#ffe5ec"/>
<rect x="903.2" y="494" width="4.6" height="123" fill="#ffc2d3"/>
<rect x="907.2" y="494" width="6.6" height="123" fill="#ff98b6"/>
<rect x="913.2" y="494" width="9.3" height="123" fill="#ff6891"/>
<rect x="922.0" y="494" width="2.6" height="123" fill="#ffd4e0"/>
<rect x="924.0" y="494" width="7.6" height="123" fill="#ff1d5b"/>
<rect x="931.0" y="494" width="3.6" height="123" fill="#ffeaf0"/>
<rect x="934.0" y="494" width="3.6" height="123" fill="#ff5c88"/>
<rect x="937.0" y="494" width="3.6" height="123" fill="#ffe5ec"/>
<rect x="940.0" y="494" width="2.1" height="123" fill="#ff98b6"/>
<rect x="941.5" y="494" width="3.1" height="123" fill="#ff2460"/>
<rect x="944.0" y="494" width="5.6" height="123" fill="#ff5c88"/>
<rect x="949.0" y="494" width="10.6" height="123" fill="#fff6f9"/>
<rect x="959.0" y="494" width="7.3" height="123" fill="#ff7a9f"/>
<rect x="965.8" y="494" width="6.6" height="123" fill="#ffb0c7"/>
<rect x="971.8" y="494" width="14.6" height="123" fill="#ffc8d8"/>
<rect x="985.8" y="494" width="2.1" height="123" fill="#ffffff"/>
<rect x="987.2" y="494" width="7.6" height="123" fill="#ff1656"/>
<rect x="994.2" y="494" width="10.1" height="123" fill="#ff396f"/>
<rect x="1003.8" y="494" width="7.6" height="123" fill="#ff749a"/>
<rect x="1010.8" y="494" width="7.3" height="123" fill="#e8ebfc"/>
<rect x="1017.5" y="494" width="3.6" height="123" fill="#ffd4e0"/>
<rect x="1020.5" y="494" width="2.6" height="123" fill="#ffffff"/>
<rect x="1022.5" y="494" width="3.6" height="123" fill="#ff98b6"/>
<rect x="1025.5" y="494" width="4.6" height="123" fill="#e1e4fb"/>
<rect x="1029.5" y="494" width="9.6" height="123" fill="#fff2f6"/>
<rect x="1038.5" y="494" width="4.6" height="123" fill="#d2d7fa"/>
<rect x="1042.5" y="494" width="3.6" height="123" fill="#ff1656"/>
<rect x="1045.5" y="494" width="12.6" height="123" fill="#ff4074"/>
<rect x="1057.5" y="494" width="14.3" height="123" fill="#ff6891"/>
<rect x="1071.2" y="494" width="8.6" height="123" fill="#ff98b6"/>
<rect x="1079.2" y="494" width="12.6" height="123" fill="#ff749a"/>
<rect x="1091.2" y="494" width="8.6" height="123" fill="#ff396f"/>
<rect x="1099.2" y="494" width="10.6" height="123" fill="#ff749a"/>
<rect x="1109.2" y="494" width="3.6" height="123" fill="#ffc2d3"/>
<rect x="1112.2" y="494" width="5.3" height="123" fill="#ff5c88"/>
<rect x="1117.0" y="494" width="2.6" height="123" fill="#ffffff"/>
<rect x="1119.0" y="494" width="4.6" height="123" fill="#ffd4e0"/>
<rect x="1123.0" y="494" width="5.6" height="123" fill="#ff98b6"/>
<rect x="1128.0" y="494" width="4.6" height="123" fill="#ffd4e0"/>
<rect x="1132.0" y="494" width="8.6" height="123" fill="#ffbccf"/>
<rect x="1140.0" y="494" width="3.4" height="123" fill="#ffffff"/>
<rect x="1142.8" y="494" width="5.6" height="123" fill="#ffb6cb"/>
<rect x="1147.8" y="494" width="4.6" height="123" fill="#f0f2fd"/>
<rect x="1151.8" y="494" width="6.6" height="123" fill="#ff1656"/>
<rect x="1157.8" y="494" width="4.6" height="123" fill="#ff396f"/>
<rect x="1161.8" y="494" width="3.6" height="123" fill="#ff86a8"/>
<rect x="1164.8" y="494" width="7.6" height="123" fill="#ff326a"/>
<rect x="1171.8" y="494" width="8.3" height="123" fill="#ff4e7e"/>
<rect x="1179.5" y="494" width="16.6" height="123" fill="#ff5c88"/>
<rect x="1195.5" y="494" width="2.1" height="123" fill="#ff98b6"/>
<rect x="1197.0" y="494" width="10.1" height="123" fill="#ffc2d3"/>
<rect x="1206.5" y="494" width="3.1" height="123" fill="#ff98b6"/>
<rect x="1209.0" y="494" width="6.6" height="123" fill="#fff6f9"/>
<rect x="1215.0" y="494" width="3.1" height="123" fill="#ff1656"/>
<rect x="1217.5" y="494" width="9.3" height="123" fill="#ff7a9f"/>
<rect x="1226.2" y="494" width="6.6" height="123" fill="#ffb0c7"/>
<rect x="1232.2" y="494" width="11.6" height="123" fill="#ff4e7e"/>
<rect x="1243.2" y="494" width="2.6" height="123" fill="#ffffff"/>
<rect x="1245.2" y="494" width="14.6" height="123" fill="#ffdde6"/>
<rect x="1259.2" y="494" width="19.4" height="123" fill="#ffbccf"/>
<rect x="1278.0" y="494" width="5.6" height="123" fill="#ff98b6"/>
<rect x="1283.0" y="494" width="6.6" height="123" fill="#ff4e7e"/>
<rect x="1289.0" y="494" width="11.6" height="123" fill="#ff6e96"/>
<rect x="1300.0" y="494" width="4.8" height="123" fill="#ff6891"/>
<rect x="1304.2" y="494" width="3.4" height="123" fill="#ffc2d3"/>
<rect x="1307.0" y="494" width="9.6" height="123" fill="#ff86a8"/>
<rect x="1316.0" y="494" width="4.1" height="123" fill="#ff4779"/>
<rect x="1319.5" y="494" width="7.6" height="123" fill="#ff8cad"/>
<rect x="1326.5" y="494" width="3.4" height="123" fill="#ffd4e0"/>
<rect x="1329.2" y="494" width="8.8" height="123" fill="#ff98b6"/>
<rect x="1337.5" y="494" width="10.3" height="123" fill="#ffb0c7"/>
<rect x="1347.2" y="494" width="6.3" height="123" fill="#ffcedc"/>
<rect x="1353.0" y="494" width="4.1" height="123" fill="#ffffff"/>
<rect x="1356.5" y="494" width="3.4" height="123" fill="#ff396f"/>
<rect x="1359.2" y="494" width="4.1" height="123" fill="#fff2f6"/>
<rect x="1362.8" y="494" width="10.3" height="123" fill="#ffb6cb"/>
<rect x="1372.5" y="494" width="6.1" height="123" fill="#ff7a9f"/>
<rect x="1378.0" y="494" width="6.1" height="123" fill="#ffb0c7"/>
<rect x="1383.5" y="494" width="3.4" height="123" fill="#ffffff"/>
<rect x="1386.2" y="494" width="11.8" height="123" fill="#ff7a9f"/>
<rect x="1397.5" y="494" width="4.8" height="123" fill="#ffb6cb"/>
<rect x="1401.8" y="494" width="11.6" height="123" fill="#ff4e7e"/>
<rect x="1412.8" y="494" width="4.8" height="123" fill="#ffffff"/>
<rect x="1417.0" y="494" width="4.8" height="123" fill="#ff98b6"/>
<rect x="1421.2" y="494" width="4.6" height="123" fill="#ffd4e0"/>
<rect x="1425.2" y="494" width="9.1" height="123" fill="#ffffff"/>
<rect x="1433.8" y="494" width="10.3" height="123" fill="#ffbccf"/>
<rect x="1443.5" y="494" width="3.4" height="123" fill="#ffffff"/>
<rect x="1446.2" y="494" width="13.1" height="123" fill="#ff8cad"/>
<rect x="1458.8" y="494" width="11.8" height="123" fill="#ffb6cb"/>
<rect x="1470.0" y="494" width="10.3" height="123" fill="#ff8cad"/>
<rect x="1479.8" y="494" width="8.8" height="123" fill="#ff6891"/>
<rect x="1488.0" y="494" width="21.6" height="123" fill="#ff1d5b"/>
<rect x="1509.0" y="494" width="3.4" height="123" fill="#ffffff"/>
<rect x="1511.8" y="494" width="17.4" height="123" fill="#ff8cad"/>
<rect x="1528.5" y="494" width="4.1" height="123" fill="#dadefa"/>
<rect x="1532.0" y="494" width="6.8" height="123" fill="#ffb6cb"/>
<rect x="1538.2" y="494" width="10.3" height="123" fill="#ff86a8"/>
<rect x="1548.0" y="494" width="7.3" height="123" fill="#ffdde6"/>
<rect x="1554.8" y="494" width="3.6" height="123" fill="#ff98b6"/>
<rect x="1557.8" y="494" width="7.3" height="123" fill="#ff396f"/>
<rect x="1564.5" y="494" width="6.1" height="123" fill="#ff749a"/>
<rect x="1570.0" y="494" width="7.1" height="123" fill="#ff6e96"/>
<rect x="1576.5" y="494" width="10.8" height="123" fill="#919aec"/>
<rect x="1586.8" y="494" width="3.6" height="123" fill="#c3c9f8"/>
<rect x="1589.8" y="494" width="16.6" height="123" fill="#959eee"/>
<rect x="1605.8" y="494" width="4.3" height="123" fill="#abb3f4"/>
<rect x="1609.5" y="494" width="16.1" height="123" fill="#9aa2ef"/>
<rect x="1625.0" y="494" width="4.1" height="123" fill="#bcc3f7"/>
<rect x="1628.5" y="494" width="4.1" height="123" fill="#959eee"/>
<rect x="1632.0" y="494" width="4.3" height="123" fill="#7d88e9"/>
<rect x="1635.8" y="494" width="4.1" height="123" fill="#b4bcf6"/>
<rect x="1639.2" y="494" width="14.8" height="123" fill="#9ea6f0"/>
<rect x="1653.5" y="494" width="10.3" height="123" fill="#8891ea"/>
<rect x="1663.2" y="494" width="2.9" height="123" fill="#cad0f9"/>
<rect x="1665.5" y="494" width="38.9" height="123" fill="#9aa2ef"/>
<rect x="1703.8" y="494" width="2.9" height="123" fill="#7a85e8"/>
<rect x="1706.0" y="494" width="13.8" height="123" fill="#919aec"/>
<rect x="1719.2" y="494" width="11.3" height="123" fill="#9ea6f0"/>
<rect x="1730.0" y="494" width="3.1" height="123" fill="#8891ea"/>
<rect x="1732.5" y="494" width="10.1" height="123" fill="#ff2460"/>
<rect x="1742.0" y="494" width="7.6" height="123" fill="#ff98b6"/>
<rect x="1749.0" y="494" width="11.3" height="123" fill="#ffb6cb"/>
<rect x="1759.8" y="494" width="3.1" height="123" fill="#ff4779"/>
<rect x="1762.2" y="494" width="4.1" height="123" fill="#ffffff"/>
<rect x="1765.8" y="494" width="6.6" height="123" fill="#ffd4e0"/>
<rect x="1771.8" y="494" width="2.4" height="123" fill="#ff5c88"/>
<rect x="1773.5" y="494" width="22.9" height="123" fill="#919aec"/>
<rect x="1795.8" y="494" width="2.9" height="123" fill="#ffffff"/>
<rect x="1798.0" y="494" width="5.3" height="123" fill="#ff396f"/>
<rect x="1802.8" y="494" width="4.8" height="123" fill="#ffffff"/>
<rect x="1807.0" y="494" width="2.6" height="123" fill="#ff5c88"/>
<rect x="113.0" y="617" width="2.4" height="123" fill="#ffc8d8"/>
<rect x="114.8" y="617" width="8.1" height="123" fill="#a7aff2"/>
<rect x="122.2" y="617" width="6.8" height="123" fill="#ff98b6"/>
<rect x="128.5" y="617" width="4.3" height="123" fill="#ffd4e0"/>
<rect x="132.2" y="617" width="6.1" height="123" fill="#ffa4be"/>
<rect x="137.8" y="617" width="3.1" height="123" fill="#ffffff"/>
<rect x="140.2" y="617" width="3.9" height="123" fill="#ff1656"/>
<rect x="143.5" y="617" width="3.1" height="123" fill="#ffd4e0"/>
<rect x="146.0" y="617" width="4.8" height="123" fill="#ff7a9f"/>
<rect x="150.2" y="617" width="4.3" height="123" fill="#9aa2ef"/>
<rect x="154.0" y="617" width="9.3" height="123" fill="#a2abf1"/>
<rect x="162.8" y="617" width="5.6" height="123" fill="#cad0f9"/>
<rect x="167.8" y="617" width="13.6" height="123" fill="#9ea6f0"/>
<rect x="180.8" y="617" width="2.6" height="123" fill="#818be9"/>
<rect x="182.8" y="617" width="3.6" height="123" fill="#a2abf1"/>
<rect x="185.8" y="617" width="3.6" height="123" fill="#6f7ce7"/>
<rect x="188.8" y="617" width="6.8" height="123" fill="#9ea6f0"/>
<rect x="195.0" y="617" width="5.6" height="123" fill="#a7aff2"/>
<rect x="200.0" y="617" width="5.6" height="123" fill="#818be9"/>
<rect x="205.0" y="617" width="5.6" height="123" fill="#a2abf1"/>
<rect x="210.0" y="617" width="5.6" height="123" fill="#b4bcf6"/>
<rect x="215.0" y="617" width="11.8" height="123" fill="#959eee"/>
<rect x="226.2" y="617" width="22.9" height="123" fill="#9aa2ef"/>
<rect x="248.5" y="617" width="3.1" height="123" fill="#b4bcf6"/>
<rect x="251.0" y="617" width="9.3" height="123" fill="#a2abf1"/>
<rect x="259.8" y="617" width="4.3" height="123" fill="#b4bcf6"/>
<rect x="263.5" y="617" width="16.9" height="123" fill="#a2abf1"/>
<rect x="279.8" y="617" width="4.1" height="123" fill="#818be9"/>
<rect x="283.2" y="617" width="23.1" height="123" fill="#9ea6f0"/>
<rect x="305.8" y="617" width="3.1" height="123" fill="#5162e3"/>
<rect x="308.2" y="617" width="4.3" height="123" fill="#ffffff"/>
<rect x="312.0" y="617" width="8.1" height="123" fill="#8c95eb"/>
<rect x="319.5" y="617" width="10.6" height="123" fill="#a2abf1"/>
<rect x="329.5" y="617" width="4.1" height="123" fill="#8891ea"/>
<rect x="333.0" y="617" width="11.8" height="123" fill="#818be9"/>
<rect x="344.2" y="617" width="6.8" height="123" fill="#a7aff2"/>
<rect x="350.5" y="617" width="11.8" height="123" fill="#919aec"/>
<rect x="361.8" y="617" width="4.3" height="123" fill="#bcc3f7"/>
<rect x="365.5" y="617" width="4.8" height="123" fill="#e1e4fb"/>
<rect x="369.8" y="617" width="8.8" height="123" fill="#abb3f4"/>
<rect x="378.0" y="617" width="9.1" height="123" fill="#a2abf1"/>
<rect x="386.5" y="617" width="4.3" height="123" fill="#818be9"/>
<rect x="390.2" y="617" width="8.1" height="123" fill="#8891ea"/>
<rect x="397.8" y="617" width="3.9" height="123" fill="#d2d7fa"/>
<rect x="401.0" y="617" width="11.1" height="123" fill="#919aec"/>
<rect x="411.5" y="617" width="4.3" height="123" fill="#b4bcf6"/>
<rect x="415.2" y="617" width="8.1" height="123" fill="#818be9"/>
<rect x="422.8" y="617" width="8.1" height="123" fill="#919aec"/>
<rect x="430.2" y="617" width="17.9" height="123" fill="#9ea6f0"/>
<rect x="447.5" y="617" width="4.3" height="123" fill="#b4bcf6"/>
<rect x="451.2" y="617" width="4.3" height="123" fill="#7682e8"/>
<rect x="455.0" y="617" width="4.3" height="123" fill="#a7aff2"/>
<rect x="458.8" y="617" width="8.1" height="123" fill="#919aec"/>
<rect x="466.2" y="617" width="2.4" height="123" fill="#7682e8"/>
<rect x="468.0" y="617" width="5.6" height="123" fill="#c3c9f8"/>
<rect x="473.0" y="617" width="7.6" height="123" fill="#919aec"/>
<rect x="480.0" y="617" width="5.3" height="123" fill="#8891ea"/>
<rect x="484.8" y="617" width="3.1" height="123" fill="#b4bcf6"/>
<rect x="487.2" y="617" width="8.1" height="123" fill="#5c6ce5"/>
<rect x="494.8" y="617" width="10.6" height="123" fill="#919aec"/>
<rect x="504.8" y="617" width="13.1" height="123" fill="#abb3f4"/>
<rect x="517.2" y="617" width="4.3" height="123" fill="#bcc3f7"/>
<rect x="521.0" y="617" width="11.8" height="123" fill="#a7aff2"/>
<rect x="532.2" y="617" width="2.9" height="123" fill="#7682e8"/>
<rect x="534.5" y="617" width="9.3" height="123" fill="#a2abf1"/>
<rect x="543.2" y="617" width="8.1" height="123" fill="#818be9"/>
<rect x="550.8" y="617" width="4.3" height="123" fill="#c3c9f8"/>
<rect x="554.5" y="617" width="9.3" height="123" fill="#848eea"/>
<rect x="563.2" y="617" width="3.1" height="123" fill="#c3c9f8"/>
<rect x="565.8" y="617" width="9.3" height="123" fill="#959eee"/>
<rect x="574.5" y="617" width="4.3" height="123" fill="#6b79e7"/>
<rect x="578.2" y="617" width="12.8" height="123" fill="#8c95eb"/>
<rect x="590.5" y="617" width="3.1" height="123" fill="#bcc3f7"/>
<rect x="593.0" y="617" width="7.6" height="123" fill="#a2abf1"/>
<rect x="600.0" y="617" width="5.3" height="123" fill="#9ea6f0"/>
<rect x="604.8" y="617" width="4.6" height="123" fill="#b0b8f5"/>
<rect x="608.8" y="617" width="5.3" height="123" fill="#a2abf1"/>
<rect x="613.5" y="617" width="8.6" height="123" fill="#919aec"/>
<rect x="621.5" y="617" width="4.6" height="123" fill="#c3c9f8"/>
<rect x="625.5" y="617" width="5.3" height="123" fill="#8c95eb"/>
<rect x="630.2" y="617" width="7.8" height="123" fill="#a2abf1"/>
<rect x="637.5" y="617" width="2.9" height="123" fill="#8891ea"/>
<rect x="639.8" y="617" width="3.1" height="123" fill="#b4bcf6"/>
<rect x="642.2" y="617" width="11.6" height="123" fill="#919aec"/>
<rect x="653.2" y="617" width="3.9" height="123" fill="#5162e3"/>
<rect x="656.5" y="617" width="4.6" height="123" fill="#abb3f4"/>
<rect x="660.5" y="617" width="3.9" height="123" fill="#727fe8"/>
<rect x="663.8" y="617" width="7.6" height="123" fill="#c3c9f8"/>
<rect x="670.8" y="617" width="2.4" height="123" fill="#8891ea"/>
<rect x="672.5" y="617" width="14.8" height="123" fill="#9ea6f0"/>
<rect x="686.8" y="617" width="3.9" height="123" fill="#e8ebfc"/>
<rect x="690.0" y="617" width="2.9" height="123" fill="#818be9"/>
<rect x="692.2" y="617" width="7.8" height="123" fill="#9ea6f0"/>
<rect x="699.5" y="617" width="3.1" height="123" fill="#b4bcf6"/>
<rect x="702.0" y="617" width="13.3" height="123" fill="#959eee"/>
<rect x="714.8" y="617" width="2.9" height="123" fill="#b0b8f5"/>
<rect x="717.0" y="617" width="9.3" height="123" fill="#7d88e9"/>
<rect x="725.8" y="617" width="3.9" height="123" fill="#5969e4"/>
<rect x="729.0" y="617" width="3.9" height="123" fill="#b4bcf6"/>
<rect x="732.2" y="617" width="6.8" height="123" fill="#8c95eb"/>
<rect x="738.5" y="617" width="3.1" height="123" fill="#7682e8"/>
<rect x="741.0" y="617" width="9.3" height="123" fill="#9ea6f0"/>
<rect x="749.8" y="617" width="9.3" height="123" fill="#ffffff"/>
<rect x="758.5" y="617" width="2.1" height="123" fill="#b4bcf6"/>
<rect x="760.0" y="617" width="2.1" height="123" fill="#8891ea"/>
<rect x="761.5" y="617" width="2.6" height="123" fill="#c3c9f8"/>
<rect x="763.5" y="617" width="5.3" height="123" fill="#ff5c88"/>
<rect x="768.2" y="617" width="7.1" height="123" fill="#ffffff"/>
<rect x="774.8" y="617" width="10.6" height="123" fill="#ff4074"/>
<rect x="784.8" y="617" width="12.6" height="123" fill="#ff628d"/>
<rect x="796.8" y="617" width="3.6" height="123" fill="#ff2b65"/>
<rect x="799.8" y="617" width="5.6" height="123" fill="#ff749a"/>
<rect x="804.8" y="617" width="15.3" height="123" fill="#ffb6cb"/>
<rect x="819.5" y="617" width="4.6" height="123" fill="#ffffff"/>
<rect x="823.5" y="617" width="6.6" height="123" fill="#ffd4e0"/>
<rect x="829.5" y="617" width="10.6" height="123" fill="#ffdde6"/>
<rect x="839.5" y="617" width="5.6" height="123" fill="#ffe1e9"/>
<rect x="844.5" y="617" width="3.1" height="123" fill="#ff396f"/>
<rect x="847.0" y="617" width="11.1" height="123" fill="#ff86a8"/>
<rect x="857.5" y="617" width="4.6" height="123" fill="#ffffff"/>
<rect x="861.5" y="617" width="13.3" height="123" fill="#ff8cad"/>
<rect x="874.2" y="617" width="2.1" height="123" fill="#ffffff"/>
<rect x="875.8" y="617" width="3.1" height="123" fill="#c3c9f8"/>
<rect x="878.2" y="617" width="9.6" height="123" fill="#f8f8fe"/>
<rect x="887.2" y="617" width="7.6" height="123" fill="#ffd4e0"/>
<rect x="894.2" y="617" width="8.6" height="123" fill="#fff2f6"/>
<rect x="902.2" y="617" width="11.6" height="123" fill="#ff5583"/>
<rect x="913.2" y="617" width="3.4" height="123" fill="#ffd4e0"/>
<rect x="916.0" y="617" width="8.6" height="123" fill="#ff86a8"/>
<rect x="924.0" y="617" width="4.6" height="123" fill="#f0f2fd"/>
<rect x="928.0" y="617" width="5.6" height="123" fill="#ffd4e0"/>
<rect x="933.0" y="617" width="4.6" height="123" fill="#ffffff"/>
<rect x="937.0" y="617" width="3.6" height="123" fill="#ff2460"/>
<rect x="940.0" y="617" width="1.6" height="123" fill="#ff396f"/>
<rect x="941.0" y="617" width="3.6" height="123" fill="#ffffff"/>
<rect x="944.0" y="617" width="3.1" height="123" fill="#ffd4e0"/>
<rect x="946.5" y="617" width="3.1" height="123" fill="#ffffff"/>
<rect x="949.0" y="617" width="10.6" height="123" fill="#ff1656"/>
<rect x="959.0" y="617" width="5.6" height="123" fill="#ffa4be"/>
<rect x="964.0" y="617" width="8.3" height="123" fill="#ff4e7e"/>
<rect x="971.8" y="617" width="15.6" height="123" fill="#ff749a"/>
<rect x="986.8" y="617" width="2.6" height="123" fill="#ffffff"/>
<rect x="988.8" y="617" width="6.1" height="123" fill="#e1e4fb"/>
<rect x="994.2" y="617" width="3.1" height="123" fill="#abb3f4"/>
<rect x="996.8" y="617" width="3.6" height="123" fill="#dadefa"/>
<rect x="999.8" y="617" width="5.6" height="123" fill="#919aec"/>
<rect x="1004.8" y="617" width="5.6" height="123" fill="#e8ebfc"/>
<rect x="1009.8" y="617" width="7.3" height="123" fill="#ffc8d8"/>
<rect x="1016.5" y="617" width="9.6" height="123" fill="#ff326a"/>
<rect x="1025.5" y="617" width="4.6" height="123" fill="#ff749a"/>
<rect x="1029.5" y="617" width="10.6" height="123" fill="#ff4779"/>
<rect x="1039.5" y="617" width="3.6" height="123" fill="#ff1d5b"/>
<rect x="1042.5" y="617" width="3.6" height="123" fill="#ffffff"/>
<rect x="1045.5" y="617" width="12.6" height="123" fill="#ffd4e0"/>
<rect x="1057.5" y="617" width="5.6" height="123" fill="#ffb6cb"/>
<rect x="1062.5" y="617" width="15.3" height="123" fill="#ff92b1"/>
<rect x="1077.2" y="617" width="2.6" height="123" fill="#ffffff"/>
<rect x="1079.2" y="617" width="4.6" height="123" fill="#ff98b6"/>
<rect x="1083.2" y="617" width="7.6" height="123" fill="#ffbccf"/>
<rect x="1090.2" y="617" width="9.6" height="123" fill="#ffeef3"/>
<rect x="1099.2" y="617" width="7.6" height="123" fill="#ffffff"/>
<rect x="1106.2" y="617" width="2.6" height="123" fill="#ffd4e0"/>
<rect x="1108.2" y="617" width="3.6" height="123" fill="#ff396f"/>
<rect x="1111.2" y="617" width="4.3" height="123" fill="#ffffff"/>
<rect x="1115.0" y="617" width="6.6" height="123" fill="#ffb0c7"/>
<rect x="1121.0" y="617" width="9.6" height="123" fill="#ff98b6"/>
<rect x="1130.0" y="617" width="6.1" height="123" fill="#ff6891"/>
<rect x="1135.5" y="617" width="5.1" height="123" fill="#ffffff"/>
<rect x="1140.0" y="617" width="4.6" height="123" fill="#fff6f9"/>
<rect x="1144.0" y="617" width="3.1" height="123" fill="#b4bcf6"/>
<rect x="1146.5" y="617" width="3.1" height="123" fill="#ffffff"/>
<rect x="1149.0" y="617" width="5.6" height="123" fill="#ffb6cb"/>
<rect x="1154.0" y="617" width="6.1" height="123" fill="#ffffff"/>
<rect x="1159.5" y="617" width="6.1" height="123" fill="#ff98b6"/>
<rect x="1165.0" y="617" width="8.3" height="123" fill="#ffd4e0"/>
<rect x="1172.8" y="617" width="4.6" height="123" fill="#ff98b6"/>
<rect x="1176.8" y="617" width="9.6" height="123" fill="#ffbccf"/>
<rect x="1185.8" y="617" width="10.6" height="123" fill="#ff98b6"/>
<rect x="1195.8" y="617" width="4.6" height="123" fill="#ff396f"/>
<rect x="1199.8" y="617" width="4.6" height="123" fill="#ffb6cb"/>
<rect x="1203.8" y="617" width="2.6" height="123" fill="#ff5c88"/>
<rect x="1205.8" y="617" width="4.6" height="123" fill="#ffd4e0"/>
<rect x="1209.8" y="617" width="5.6" height="123" fill="#ff86a8"/>
<rect x="1214.8" y="617" width="3.9" height="123" fill="#ffffff"/>
<rect x="1218.0" y="617" width="3.1" height="123" fill="#ff5c88"/>
<rect x="1220.5" y="617" width="8.6" height="123" fill="#ffbccf"/>
<rect x="1228.5" y="617" width="3.6" height="123" fill="#ff5c88"/>
<rect x="1231.5" y="617" width="12.6" height="123" fill="#ffc8d8"/>
<rect x="1243.5" y="617" width="3.1" height="123" fill="#ff2460"/>
<rect x="1246.0" y="617" width="4.1" height="123" fill="#ff7a9f"/>
<rect x="1249.5" y="617" width="10.1" height="123" fill="#ff396f"/>
<rect x="1259.0" y="617" width="14.8" height="123" fill="#ffe1e9"/>
<rect x="1273.2" y="617" width="3.6" height="123" fill="#ff86a8"/>
<rect x="1276.2" y="617" width="7.6" height="123" fill="#ffeef3"/>
<rect x="1283.2" y="617" width="4.6" height="123" fill="#e8ebfc"/>
<rect x="1287.2" y="617" width="5.6" height="123" fill="#ffd4e0"/>
<rect x="1292.2" y="617" width="3.6" height="123" fill="#ff5c88"/>
<rect x="1295.2" y="617" width="8.6" height="123" fill="#ffffff"/>
<rect x="1303.2" y="617" width="6.6" height="123" fill="#ffdde6"/>
<rect x="1309.2" y="617" width="3.6" height="123" fill="#ff98b6"/>
<rect x="1312.2" y="617" width="3.4" height="123" fill="#f0f2fd"/>
<rect x="1315.0" y="617" width="7.6" height="123" fill="#fff2f6"/>
<rect x="1322.0" y="617" width="2.6" height="123" fill="#ff98b6"/>
<rect x="1324.0" y="617" width="8.6" height="123" fill="#ffd8e3"/>
<rect x="1332.0" y="617" width="5.6" height="123" fill="#ff5c88"/>
<rect x="1337.0" y="617" width="7.3" height="123" fill="#ff98b6"/>
<rect x="1343.8" y="617" width="13.1" height="123" fill="#ff7a9f"/>
<rect x="1356.2" y="617" width="4.3" height="123" fill="#c3c9f8"/>
<rect x="1360.0" y="617" width="6.6" height="123" fill="#ffc8d8"/>
<rect x="1366.0" y="617" width="4.3" height="123" fill="#ff86a8"/>
<rect x="1369.8" y="617" width="15.6" height="123" fill="#ffb0c7"/>
<rect x="1384.8" y="617" width="3.1" height="123" fill="#fff2f6"/>
<rect x="1387.2" y="617" width="8.1" height="123" fill="#ff86a8"/>
<rect x="1394.8" y="617" width="3.6" height="123" fill="#ffffff"/>
<rect x="1397.8" y="617" width="6.3" height="123" fill="#ff7a9f"/>
<rect x="1403.5" y="617" width="10.6" height="123" fill="#ffb6cb"/>
<rect x="1413.5" y="617" width="4.1" height="123" fill="#ff1656"/>
<rect x="1417.0" y="617" width="9.3" height="123" fill="#ff86a8"/>
<rect x="1425.8" y="617" width="6.8" height="123" fill="#ff4074"/>
<rect x="1432.0" y="617" width="8.1" height="123" fill="#ff6e96"/>
<rect x="1439.5" y="617" width="3.1" height="123" fill="#ff5c88"/>
<rect x="1442.0" y="617" width="3.1" height="123" fill="#fff2f6"/>
<rect x="1444.5" y="617" width="5.6" height="123" fill="#e8ebfc"/>
<rect x="1449.5" y="617" width="10.6" height="123" fill="#ffc2d3"/>
<rect x="1459.5" y="617" width="16.6" height="123" fill="#ff92b1"/>
<rect x="1475.5" y="617" width="14.3" height="123" fill="#ffd4e0"/>
<rect x="1489.2" y="617" width="6.8" height="123" fill="#f0f2fd"/>
<rect x="1495.5" y="617" width="6.8" height="123" fill="#ffd4e0"/>
<rect x="1501.8" y="617" width="8.1" height="123" fill="#ffffff"/>
<rect x="1509.2" y="617" width="3.1" height="123" fill="#ff396f"/>
<rect x="1511.8" y="617" width="10.3" height="123" fill="#ff98b6"/>
<rect x="1521.5" y="617" width="4.3" height="123" fill="#ffd4e0"/>
<rect x="1525.2" y="617" width="5.6" height="123" fill="#ff98b6"/>
<rect x="1530.2" y="617" width="6.8" height="123" fill="#ff4e7e"/>
<rect x="1536.5" y="617" width="15.6" height="123" fill="#ffa4be"/>
<rect x="1551.5" y="617" width="4.3" height="123" fill="#ff326a"/>
<rect x="1555.2" y="617" width="6.8" height="123" fill="#ffb0c7"/>
<rect x="1561.5" y="617" width="4.1" height="123" fill="#ffffff"/>
<rect x="1565.0" y="617" width="12.1" height="123" fill="#ffb0c7"/>
<rect x="1576.5" y="617" width="6.1" height="123" fill="#818be9"/>
<rect x="1582.0" y="617" width="7.6" height="123" fill="#959eee"/>
<rect x="1589.0" y="617" width="3.1" height="123" fill="#bcc3f7"/>
<rect x="1591.5" y="617" width="24.4" height="123" fill="#9aa2ef"/>
<rect x="1615.2" y="617" width="3.1" height="123" fill="#7682e8"/>
<rect x="1617.8" y="617" width="7.8" height="123" fill="#a2abf1"/>
<rect x="1625.0" y="617" width="2.9" height="123" fill="#818be9"/>
<rect x="1627.2" y="617" width="13.8" height="123" fill="#a2abf1"/>
<rect x="1640.5" y="617" width="11.3" height="123" fill="#919aec"/>
<rect x="1651.2" y="617" width="2.9" height="123" fill="#7d88e9"/>
<rect x="1653.5" y="617" width="12.6" height="123" fill="#a2abf1"/>
<rect x="1665.5" y="617" width="41.1" height="123" fill="#9aa2ef"/>
<rect x="1706.0" y="617" width="13.8" height="123" fill="#919aec"/>
<rect x="1719.2" y="617" width="4.1" height="123" fill="#7682e8"/>
<rect x="1722.8" y="617" width="4.3" height="123" fill="#cad0f9"/>
<rect x="1726.5" y="617" width="4.1" height="123" fill="#6473e6"/>
<rect x="1730.0" y="617" width="4.1" height="123" fill="#b4bcf6"/>
<rect x="1733.5" y="617" width="5.3" height="123" fill="#ffffff"/>
<rect x="1738.2" y="617" width="6.6" height="123" fill="#ff98b6"/>
<rect x="1744.2" y="617" width="10.3" height="123" fill="#ff6891"/>
<rect x="1754.0" y="617" width="5.3" height="123" fill="#ff8cad"/>
<rect x="1758.8" y="617" width="4.1" height="123" fill="#ffd4e0"/>
<rect x="1762.2" y="617" width="4.1" height="123" fill="#ff86a8"/>
<rect x="1765.8" y="617" width="5.3" height="123" fill="#ff4779"/>
<rect x="1770.5" y="617" width="3.1" height="123" fill="#ffd4e0"/>
<rect x="1773.0" y="617" width="23.4" height="123" fill="#959eee"/>
<rect x="1795.8" y="617" width="4.1" height="123" fill="#ffffff"/>
<rect x="1799.2" y="617" width="6.6" height="123" fill="#ffbccf"/>
<rect x="1805.2" y="617" width="4.3" height="123" fill="#ff1656"/>
<text x="0.5" y="44.5" font-size="50.5" font-weight="bold" font-style="normal" text-anchor="start" fill="#000" textLength="31" lengthAdjust="spacingAndGlyphs" >A</text>
<text x="15.5" y="834.7" font-size="50.5" font-weight="bold" font-style="normal" text-anchor="start" fill="#000" textLength="28" lengthAdjust="spacingAndGlyphs" >B</text>
<line x1="100.5" y1="11" x2="100.5" y2="341" stroke="#000" stroke-width="2"/>
<line x1="100.5" y1="382" x2="100.5" y2="713" stroke="#000" stroke-width="2"/>
<g transform="translate(89.8,316) rotate(-90)"><text x="0" y="0" font-size="34" font-weight="bold" font-style="normal" text-anchor="start" fill="#000" textLength="275" lengthAdjust="spacingAndGlyphs" xml:space='preserve'>Planktonic&#160;&#160;bacteria</text></g>
<g transform="translate(89.8,715) rotate(-90)"><text x="0" y="0" font-size="34" font-weight="bold" font-style="normal" text-anchor="start" fill="#000" textLength="340" lengthAdjust="spacingAndGlyphs" >GPMV-adherent bacteria</text></g>
<defs><linearGradient id="ck" x1="0" x2="1" y1="0" y2="0"><stop offset="0" stop-color="#1010e0"/><stop offset="0.25" stop-color="#7078e8"/><stop offset="0.5" stop-color="#ffffff"/><stop offset="0.75" stop-color="#ff80a0"/><stop offset="1" stop-color="#ff0040"/></linearGradient></defs>
<rect x="1882.5" y="9.8" width="109.5" height="63" fill="url(#ck)"/>
<path d="M1884 74 H1988.5 M1884 73 V86.5 M1909.5 73 V86.5 M1936.5 73 V86.5 M1962.5 73 V86.5 M1988.5 73 V86.5" stroke="#000" stroke-width="2.2" fill="none"/>
<text x="1883" y="126" font-size="22" font-weight="normal" font-style="normal" text-anchor="middle" fill="#000" stroke="#000" stroke-width="0.5">-2</text>
<text x="1937.5" y="126" font-size="22" font-weight="normal" font-style="normal" text-anchor="middle" fill="#000" stroke="#000" stroke-width="0.5">0</text>
<text x="1988" y="126" font-size="22" font-weight="normal" font-style="normal" text-anchor="middle" fill="#000" stroke="#000" stroke-width="0.5">2</text>
<text x="1868" y="161" font-size="22" font-weight="normal" font-style="normal" text-anchor="start" fill="#000" textLength="139" lengthAdjust="spacingAndGlyphs" stroke="#000" stroke-width="0.5">Row Z-Score</text>
<line x1="228.5" y1="804.2" x2="852.5" y2="804.2" stroke="#cacaca" stroke-width="1.6"/>
<text x="207" y="812.5" font-size="23" font-weight="normal" font-style="normal" text-anchor="end" fill="#000" transform-origin="207 0" style="transform:scaleX(0.85)">15</text>
<line x1="228.5" y1="891.5" x2="852.5" y2="891.5" stroke="#cacaca" stroke-width="1.6"/>
<text x="207" y="899.8" font-size="23" font-weight="normal" font-style="normal" text-anchor="end" fill="#000" transform-origin="207 0" style="transform:scaleX(0.85)">10</text>
<line x1="228.5" y1="977.6" x2="852.5" y2="977.6" stroke="#cacaca" stroke-width="1.6"/>
<text x="207" y="985.9" font-size="23" font-weight="normal" font-style="normal" text-anchor="end" fill="#000" transform-origin="207 0" style="transform:scaleX(0.85)">5</text>
<line x1="228.5" y1="1064.8" x2="852.5" y2="1064.8" stroke="#cacaca" stroke-width="1.6"/>
<text x="207" y="1073.1" font-size="23" font-weight="normal" font-style="normal" text-anchor="end" fill="#000" transform-origin="207 0" style="transform:scaleX(0.85)">0</text>
<line x1="228.5" y1="1150.5" x2="852.5" y2="1150.5" stroke="#cacaca" stroke-width="1.6"/>
<text x="207" y="1158.8" font-size="23" font-weight="normal" font-style="normal" text-anchor="end" fill="#000" transform-origin="207 0" style="transform:scaleX(0.85)">-5</text>
<line x1="228.5" y1="1236.3" x2="852.5" y2="1236.3" stroke="#cacaca" stroke-width="1.6"/>
<text x="207" y="1244.6" font-size="23" font-weight="normal" font-style="normal" text-anchor="end" fill="#000" transform-origin="207 0" style="transform:scaleX(0.85)">-10</text>
<rect x="291.7" y="910.2" width="56.5" height="154.1" fill="#c00000" stroke="#b00000" stroke-width="1"/>
<rect x="366.3" y="925.9" width="56.0" height="138.4" fill="#cd3232" stroke="#c02020" stroke-width="1"/>
<rect x="438.7" y="935.0" width="56.0" height="129.3" fill="#da6a6a" stroke="#cf5050" stroke-width="1"/>
<rect x="511.5" y="966.9" width="55.8" height="97.4" fill="#f7caa8" stroke="#f0b890" stroke-width="1"/>
<rect x="586.2" y="1065.3" width="55.3" height="99.5" fill="#b8b8b8" stroke="#a8a8a8" stroke-width="1"/>
<rect x="658.5" y="1065.3" width="55.7" height="120.2" fill="#7f7f7f" stroke="#6f6f6f" stroke-width="1"/>
<rect x="732.8" y="1065.3" width="56.0" height="124.0" fill="#525252" stroke="#404040" stroke-width="1"/>
<line x1="228.5" y1="804.2" x2="852.5" y2="804.2" stroke="#000" stroke-opacity="0.07" stroke-width="1.6"/>
<line x1="228.5" y1="891.5" x2="852.5" y2="891.5" stroke="#000" stroke-opacity="0.07" stroke-width="1.6"/>
<line x1="228.5" y1="977.6" x2="852.5" y2="977.6" stroke="#000" stroke-opacity="0.07" stroke-width="1.6"/>
<line x1="228.5" y1="1064.8" x2="852.5" y2="1064.8" stroke="#000" stroke-opacity="0.07" stroke-width="1.6"/>
<line x1="228.5" y1="1150.5" x2="852.5" y2="1150.5" stroke="#000" stroke-opacity="0.07" stroke-width="1.6"/>
<line x1="228.5" y1="1236.3" x2="852.5" y2="1236.3" stroke="#000" stroke-opacity="0.07" stroke-width="1.6"/>
<path d="M319.6 903.1 V916.1 M313.9 903.1 H325.3 M313.9 916.1 H325.3" stroke="#253535" stroke-width="1.7" fill="none"/>
<path d="M394.2 919.6 V929.1 M388.5 919.6 H399.9 M388.5 929.1 H399.9" stroke="#253535" stroke-width="1.7" fill="none"/>
<path d="M466.6 921.6 V945.7 M460.9 921.6 H472.3 M460.9 945.7 H472.3" stroke="#253535" stroke-width="1.7" fill="none"/>
<path d="M539.3 957.2 V973.6 M533.6 957.2 H545.0 M533.6 973.6 H545.0" stroke="#253535" stroke-width="1.7" fill="none"/>
<path d="M613.6 1142.4 V1189.8 M607.9 1142.4 H619.3 M607.9 1189.8 H619.3" stroke="#253535" stroke-width="1.7" fill="none"/>
<path d="M686.4 1153.9 V1218.9 M680.7 1153.9 H692.1 M680.7 1218.9 H692.1" stroke="#253535" stroke-width="1.7" fill="none"/>
<path d="M760.6 1167.0 V1212.0 M754.9 1167.0 H766.3 M754.9 1212.0 H766.3" stroke="#253535" stroke-width="1.7" fill="none"/>
<g transform="translate(161.5,1146) rotate(-90)"><text x="0" y="0" font-size="35" font-weight="normal" font-style="normal" text-anchor="start" fill="#000" textLength="252" lengthAdjust="spacingAndGlyphs" >Log2(Fold Change)</text></g>
<rect x="892" y="869.0" width="14.5" height="14.5" fill="#c00000" stroke="#00000018" stroke-width="1"/>
<text x="916" y="886.5" font-size="25.5" font-weight="normal" font-style="italic" text-anchor="start" fill="#000" textLength="117.5" lengthAdjust="spacingAndGlyphs" >BCAL0729</text>
<rect x="892" y="917.3" width="14.5" height="14.5" fill="#cd3030" stroke="#00000018" stroke-width="1"/>
<text x="916" y="934.8" font-size="25.5" font-weight="normal" font-style="italic" text-anchor="start" fill="#000" textLength="117.5" lengthAdjust="spacingAndGlyphs" >BCAL3098</text>
<rect x="892" y="965.6" width="14.5" height="14.5" fill="#da6b6b" stroke="#00000018" stroke-width="1"/>
<text x="916" y="983.1" font-size="25.5" font-weight="normal" font-style="italic" text-anchor="start" fill="#000" textLength="122.3" lengthAdjust="spacingAndGlyphs" >BCAM2531</text>
<rect x="892" y="1013.9" width="14.5" height="14.5" fill="#f7cba9" stroke="#00000018" stroke-width="1"/>
<text x="916" y="1031.4" font-size="25.5" font-weight="normal" font-style="italic" text-anchor="start" fill="#000" textLength="122.3" lengthAdjust="spacingAndGlyphs" >BCAM2418</text>
<rect x="892" y="1062.2" width="14.5" height="14.5" fill="#bfbfbf" stroke="#00000018" stroke-width="1"/>
<text x="916" y="1079.7" font-size="25.5" font-weight="normal" font-style="italic" text-anchor="start" fill="#000" textLength="117.5" lengthAdjust="spacingAndGlyphs" >BCAL1829</text>
<rect x="892" y="1110.5" width="14.5" height="14.5" fill="#808080" stroke="#00000018" stroke-width="1"/>
<text x="916" y="1128.0" font-size="25.5" font-weight="normal" font-style="italic" text-anchor="start" fill="#000" textLength="117.5" lengthAdjust="spacingAndGlyphs" >BCAL2933</text>
<rect x="892" y="1158.8" width="14.5" height="14.5" fill="#505050" stroke="#00000018" stroke-width="1"/>
<text x="916" y="1176.3" font-size="25.5" font-weight="normal" font-style="italic" text-anchor="start" fill="#000" textLength="122.3" lengthAdjust="spacingAndGlyphs" >BCAM1570</text>
<rect x="1143" y="847.5" width="642" height="5.2" fill="#b80000"/>
<rect x="1143" y="899.3" width="642" height="1.8" fill="#c8202a"/>
<rect x="1143" y="948.5" width="642" height="1.8" fill="#c8202a"/>
<rect x="1143" y="998.0" width="642" height="1.8" fill="#c8202a"/>
<rect x="1143" y="1047.6" width="642" height="1.8" fill="#c8202a"/>
<rect x="1143" y="1096.8" width="642" height="1.8" fill="#c8202a"/>
<rect x="1143" y="1147.4" width="642" height="1.8" fill="#c8202a"/>
<text x="1464.5" y="838.6" font-size="36.5" font-weight="normal" font-style="normal" text-anchor="middle" fill="#000" textLength="125" lengthAdjust="spacingAndGlyphs" >qRT-PCR</text>
<text x="1678" y="838.6" font-size="36.5" font-weight="normal" font-style="normal" text-anchor="middle" fill="#000" textLength="112.5" lengthAdjust="spacingAndGlyphs" >RNAseq</text>
<text x="1177" y="888.7" font-size="36.6" font-weight="normal" font-style="italic" text-anchor="start" fill="#000" textLength="146.5" lengthAdjust="spacingAndGlyphs" >BCAL0729</text>
<text x="1463.7" y="890.2" font-size="38" font-weight="normal" font-style="normal" text-anchor="middle" fill="#000" textLength="65.5" lengthAdjust="spacingAndGlyphs" >8.95</text>
<text x="1677.5" y="890.2" font-size="38" font-weight="normal" font-style="normal" text-anchor="middle" fill="#000" textLength="65.5" lengthAdjust="spacingAndGlyphs" >9.13</text>
<text x="1177" y="938.25" font-size="36.6" font-weight="normal" font-style="italic" text-anchor="start" fill="#000" textLength="146.5" lengthAdjust="spacingAndGlyphs" >BCAL3098</text>
<text x="1463.7" y="939.75" font-size="38" font-weight="normal" font-style="normal" text-anchor="middle" fill="#000" textLength="65.5" lengthAdjust="spacingAndGlyphs" >8.07</text>
<text x="1677.5" y="939.75" font-size="38" font-weight="normal" font-style="normal" text-anchor="middle" fill="#000" textLength="65.5" lengthAdjust="spacingAndGlyphs" >8.20</text>
<text x="1175" y="987.8000000000001" font-size="36.6" font-weight="normal" font-style="italic" text-anchor="start" fill="#000" textLength="152.3" lengthAdjust="spacingAndGlyphs" >BCAM2531</text>
<text x="1463.7" y="989.3000000000001" font-size="38" font-weight="normal" font-style="normal" text-anchor="middle" fill="#000" textLength="65.5" lengthAdjust="spacingAndGlyphs" >7.57</text>
<text x="1677.5" y="989.3000000000001" font-size="38" font-weight="normal" font-style="normal" text-anchor="middle" fill="#000" textLength="65.5" lengthAdjust="spacingAndGlyphs" >7.81</text>
<text x="1175" y="1037.35" font-size="36.6" font-weight="normal" font-style="italic" text-anchor="start" fill="#000" textLength="152.3" lengthAdjust="spacingAndGlyphs" >BCAM2418</text>
<text x="1463.7" y="1038.85" font-size="38" font-weight="normal" font-style="normal" text-anchor="middle" fill="#000" textLength="65.5" lengthAdjust="spacingAndGlyphs" >5.76</text>
<text x="1677.5" y="1038.85" font-size="38" font-weight="normal" font-style="normal" text-anchor="middle" fill="#000" textLength="65.5" lengthAdjust="spacingAndGlyphs" >5.94</text>
<text x="1177" y="1086.9" font-size="36.6" font-weight="normal" font-style="italic" text-anchor="start" fill="#000" textLength="146.5" lengthAdjust="spacingAndGlyphs" >BCAL1829</text>
<text x="1463.7" y="1088.4" font-size="38" font-weight="normal" font-style="normal" text-anchor="middle" fill="#000" textLength="76" lengthAdjust="spacingAndGlyphs" >-5.90</text>
<text x="1677.5" y="1088.4" font-size="38" font-weight="normal" font-style="normal" text-anchor="middle" fill="#000" textLength="76" lengthAdjust="spacingAndGlyphs" >-6.76</text>
<text x="1177" y="1136.45" font-size="36.6" font-weight="normal" font-style="italic" text-anchor="start" fill="#000" textLength="146.5" lengthAdjust="spacingAndGlyphs" >BCAL2933</text>
<text x="1463.7" y="1137.95" font-size="38" font-weight="normal" font-style="normal" text-anchor="middle" fill="#000" textLength="76" lengthAdjust="spacingAndGlyphs" >-7.13</text>
<text x="1677.5" y="1137.95" font-size="38" font-weight="normal" font-style="normal" text-anchor="middle" fill="#000" textLength="76" lengthAdjust="spacingAndGlyphs" >-7.75</text>
<text x="1175" y="1186.0" font-size="36.6" font-weight="normal" font-style="italic" text-anchor="start" fill="#000" textLength="152.3" lengthAdjust="spacingAndGlyphs" >BCAM1570</text>
<text x="1463.7" y="1187.5" font-size="38" font-weight="normal" font-style="normal" text-anchor="middle" fill="#000" textLength="76" lengthAdjust="spacingAndGlyphs" >-7.29</text>
<text x="1677.5" y="1187.5" font-size="38" font-weight="normal" font-style="normal" text-anchor="middle" fill="#000" textLength="76" lengthAdjust="spacingAndGlyphs" >-7.12</text>
</svg>
</body></html>
